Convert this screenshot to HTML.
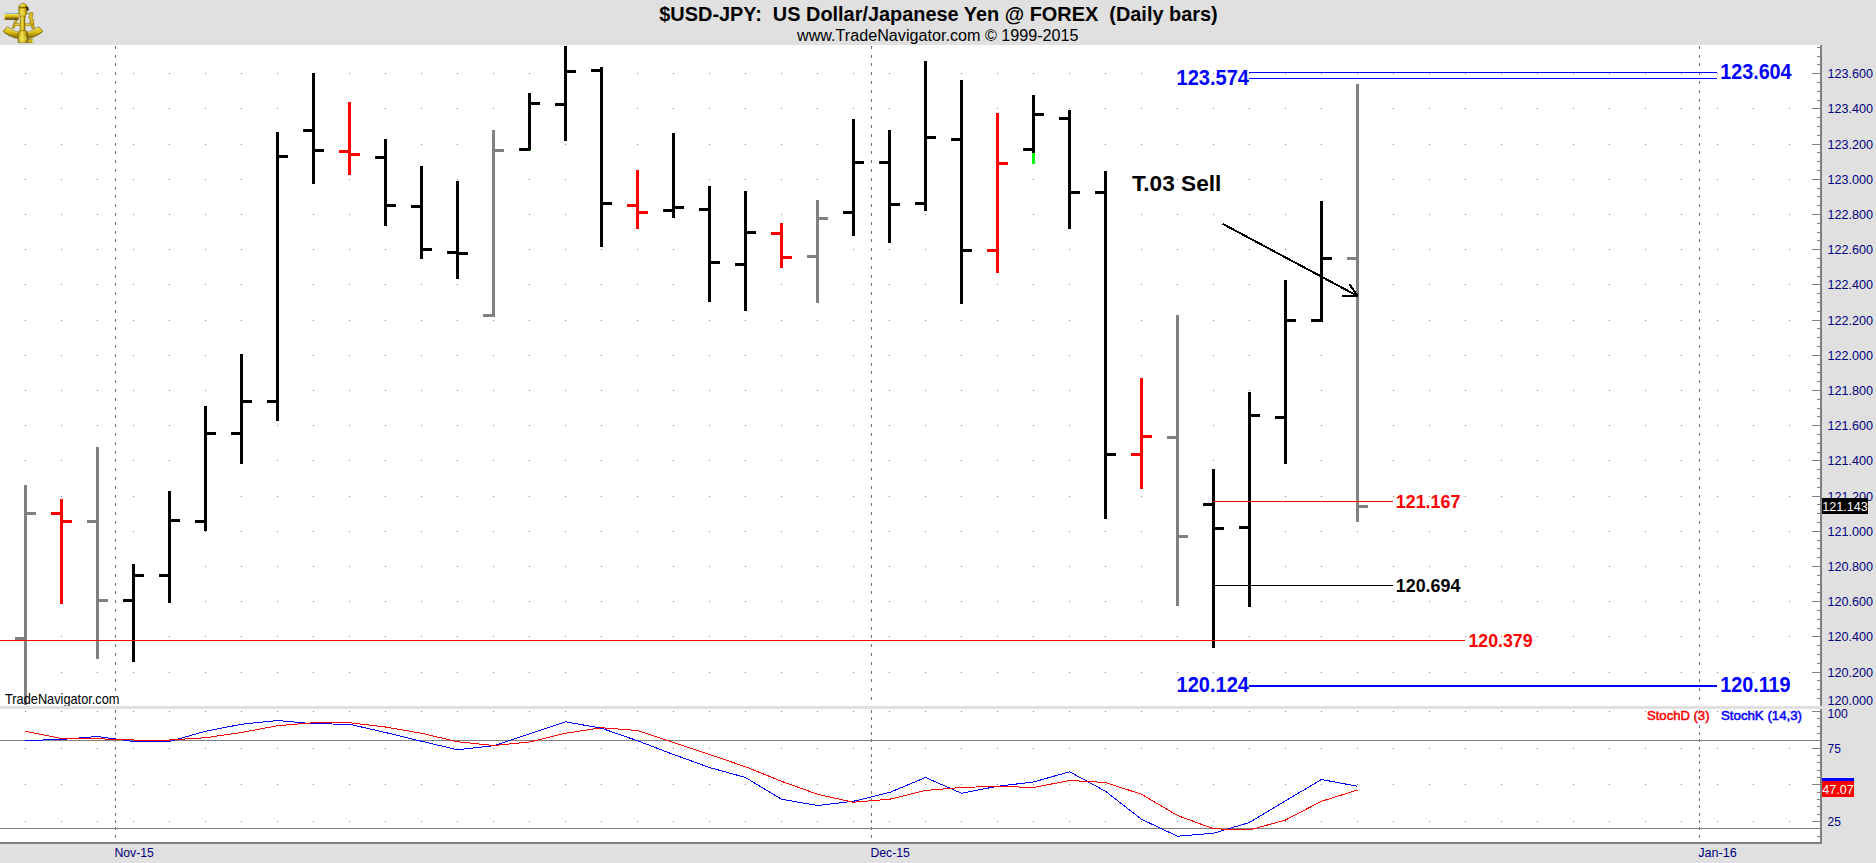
<!DOCTYPE html>
<html lang="en">
<head>
<meta charset="utf-8">
<title>$USD-JPY: US Dollar/Japanese Yen @ FOREX (Daily bars)</title>
<style>
html,body{margin:0;padding:0;background:#e0e0e0;overflow:hidden}
body{width:1876px;height:863px;font-family:'Liberation Sans', Arial, Helvetica, sans-serif}
svg{display:block;position:absolute;left:0;top:0}
svg text{font-family:'Liberation Sans', Arial, Helvetica, sans-serif}
</style>
</head>
<body>
<svg width="1876" height="863" viewBox="0 0 1876 863">
<g shape-rendering="crispEdges">
<rect x="0" y="0" width="1876" height="863" fill="#e0e0e0"/>
<rect x="0" y="45" width="1820" height="661" fill="#ffffff"/>
<rect x="0" y="709" width="1820" height="133" fill="#ffffff"/>
<g fill="#808080">
<rect x="25" y="73" width="1" height="1"/>
<rect x="61" y="73" width="1" height="1"/>
<rect x="97" y="73" width="1" height="1"/>
<rect x="133" y="73" width="1" height="1"/>
<rect x="169" y="73" width="1" height="1"/>
<rect x="205" y="73" width="1" height="1"/>
<rect x="241" y="73" width="1" height="1"/>
<rect x="277" y="73" width="1" height="1"/>
<rect x="313" y="73" width="1" height="1"/>
<rect x="349" y="73" width="1" height="1"/>
<rect x="385" y="73" width="1" height="1"/>
<rect x="421" y="73" width="1" height="1"/>
<rect x="457" y="73" width="1" height="1"/>
<rect x="493" y="73" width="1" height="1"/>
<rect x="529" y="73" width="1" height="1"/>
<rect x="565" y="73" width="1" height="1"/>
<rect x="601" y="73" width="1" height="1"/>
<rect x="637" y="73" width="1" height="1"/>
<rect x="673" y="73" width="1" height="1"/>
<rect x="709" y="73" width="1" height="1"/>
<rect x="745" y="73" width="1" height="1"/>
<rect x="781" y="73" width="1" height="1"/>
<rect x="817" y="73" width="1" height="1"/>
<rect x="853" y="73" width="1" height="1"/>
<rect x="889" y="73" width="1" height="1"/>
<rect x="925" y="73" width="1" height="1"/>
<rect x="961" y="73" width="1" height="1"/>
<rect x="997" y="73" width="1" height="1"/>
<rect x="1033" y="73" width="1" height="1"/>
<rect x="1069" y="73" width="1" height="1"/>
<rect x="1105" y="73" width="1" height="1"/>
<rect x="1141" y="73" width="1" height="1"/>
<rect x="1177" y="73" width="1" height="1"/>
<rect x="1213" y="73" width="1" height="1"/>
<rect x="1249" y="73" width="1" height="1"/>
<rect x="1285" y="73" width="1" height="1"/>
<rect x="1321" y="73" width="1" height="1"/>
<rect x="1357" y="73" width="1" height="1"/>
<rect x="1393" y="73" width="1" height="1"/>
<rect x="1429" y="73" width="1" height="1"/>
<rect x="1465" y="73" width="1" height="1"/>
<rect x="1501" y="73" width="1" height="1"/>
<rect x="1537" y="73" width="1" height="1"/>
<rect x="1573" y="73" width="1" height="1"/>
<rect x="1609" y="73" width="1" height="1"/>
<rect x="1645" y="73" width="1" height="1"/>
<rect x="1681" y="73" width="1" height="1"/>
<rect x="1717" y="73" width="1" height="1"/>
<rect x="1753" y="73" width="1" height="1"/>
<rect x="1789" y="73" width="1" height="1"/>
<rect x="25" y="108" width="1" height="1"/>
<rect x="61" y="108" width="1" height="1"/>
<rect x="97" y="108" width="1" height="1"/>
<rect x="133" y="108" width="1" height="1"/>
<rect x="169" y="108" width="1" height="1"/>
<rect x="205" y="108" width="1" height="1"/>
<rect x="241" y="108" width="1" height="1"/>
<rect x="277" y="108" width="1" height="1"/>
<rect x="313" y="108" width="1" height="1"/>
<rect x="349" y="108" width="1" height="1"/>
<rect x="385" y="108" width="1" height="1"/>
<rect x="421" y="108" width="1" height="1"/>
<rect x="457" y="108" width="1" height="1"/>
<rect x="493" y="108" width="1" height="1"/>
<rect x="529" y="108" width="1" height="1"/>
<rect x="565" y="108" width="1" height="1"/>
<rect x="601" y="108" width="1" height="1"/>
<rect x="637" y="108" width="1" height="1"/>
<rect x="673" y="108" width="1" height="1"/>
<rect x="709" y="108" width="1" height="1"/>
<rect x="745" y="108" width="1" height="1"/>
<rect x="781" y="108" width="1" height="1"/>
<rect x="817" y="108" width="1" height="1"/>
<rect x="853" y="108" width="1" height="1"/>
<rect x="889" y="108" width="1" height="1"/>
<rect x="925" y="108" width="1" height="1"/>
<rect x="961" y="108" width="1" height="1"/>
<rect x="997" y="108" width="1" height="1"/>
<rect x="1033" y="108" width="1" height="1"/>
<rect x="1069" y="108" width="1" height="1"/>
<rect x="1105" y="108" width="1" height="1"/>
<rect x="1141" y="108" width="1" height="1"/>
<rect x="1177" y="108" width="1" height="1"/>
<rect x="1213" y="108" width="1" height="1"/>
<rect x="1249" y="108" width="1" height="1"/>
<rect x="1285" y="108" width="1" height="1"/>
<rect x="1321" y="108" width="1" height="1"/>
<rect x="1357" y="108" width="1" height="1"/>
<rect x="1393" y="108" width="1" height="1"/>
<rect x="1429" y="108" width="1" height="1"/>
<rect x="1465" y="108" width="1" height="1"/>
<rect x="1501" y="108" width="1" height="1"/>
<rect x="1537" y="108" width="1" height="1"/>
<rect x="1573" y="108" width="1" height="1"/>
<rect x="1609" y="108" width="1" height="1"/>
<rect x="1645" y="108" width="1" height="1"/>
<rect x="1681" y="108" width="1" height="1"/>
<rect x="1717" y="108" width="1" height="1"/>
<rect x="1753" y="108" width="1" height="1"/>
<rect x="1789" y="108" width="1" height="1"/>
<rect x="25" y="144" width="1" height="1"/>
<rect x="61" y="144" width="1" height="1"/>
<rect x="97" y="144" width="1" height="1"/>
<rect x="133" y="144" width="1" height="1"/>
<rect x="169" y="144" width="1" height="1"/>
<rect x="205" y="144" width="1" height="1"/>
<rect x="241" y="144" width="1" height="1"/>
<rect x="277" y="144" width="1" height="1"/>
<rect x="313" y="144" width="1" height="1"/>
<rect x="349" y="144" width="1" height="1"/>
<rect x="385" y="144" width="1" height="1"/>
<rect x="421" y="144" width="1" height="1"/>
<rect x="457" y="144" width="1" height="1"/>
<rect x="493" y="144" width="1" height="1"/>
<rect x="529" y="144" width="1" height="1"/>
<rect x="565" y="144" width="1" height="1"/>
<rect x="601" y="144" width="1" height="1"/>
<rect x="637" y="144" width="1" height="1"/>
<rect x="673" y="144" width="1" height="1"/>
<rect x="709" y="144" width="1" height="1"/>
<rect x="745" y="144" width="1" height="1"/>
<rect x="781" y="144" width="1" height="1"/>
<rect x="817" y="144" width="1" height="1"/>
<rect x="853" y="144" width="1" height="1"/>
<rect x="889" y="144" width="1" height="1"/>
<rect x="925" y="144" width="1" height="1"/>
<rect x="961" y="144" width="1" height="1"/>
<rect x="997" y="144" width="1" height="1"/>
<rect x="1033" y="144" width="1" height="1"/>
<rect x="1069" y="144" width="1" height="1"/>
<rect x="1105" y="144" width="1" height="1"/>
<rect x="1141" y="144" width="1" height="1"/>
<rect x="1177" y="144" width="1" height="1"/>
<rect x="1213" y="144" width="1" height="1"/>
<rect x="1249" y="144" width="1" height="1"/>
<rect x="1285" y="144" width="1" height="1"/>
<rect x="1321" y="144" width="1" height="1"/>
<rect x="1357" y="144" width="1" height="1"/>
<rect x="1393" y="144" width="1" height="1"/>
<rect x="1429" y="144" width="1" height="1"/>
<rect x="1465" y="144" width="1" height="1"/>
<rect x="1501" y="144" width="1" height="1"/>
<rect x="1537" y="144" width="1" height="1"/>
<rect x="1573" y="144" width="1" height="1"/>
<rect x="1609" y="144" width="1" height="1"/>
<rect x="1645" y="144" width="1" height="1"/>
<rect x="1681" y="144" width="1" height="1"/>
<rect x="1717" y="144" width="1" height="1"/>
<rect x="1753" y="144" width="1" height="1"/>
<rect x="1789" y="144" width="1" height="1"/>
<rect x="25" y="179" width="1" height="1"/>
<rect x="61" y="179" width="1" height="1"/>
<rect x="97" y="179" width="1" height="1"/>
<rect x="133" y="179" width="1" height="1"/>
<rect x="169" y="179" width="1" height="1"/>
<rect x="205" y="179" width="1" height="1"/>
<rect x="241" y="179" width="1" height="1"/>
<rect x="277" y="179" width="1" height="1"/>
<rect x="313" y="179" width="1" height="1"/>
<rect x="349" y="179" width="1" height="1"/>
<rect x="385" y="179" width="1" height="1"/>
<rect x="421" y="179" width="1" height="1"/>
<rect x="457" y="179" width="1" height="1"/>
<rect x="493" y="179" width="1" height="1"/>
<rect x="529" y="179" width="1" height="1"/>
<rect x="565" y="179" width="1" height="1"/>
<rect x="601" y="179" width="1" height="1"/>
<rect x="637" y="179" width="1" height="1"/>
<rect x="673" y="179" width="1" height="1"/>
<rect x="709" y="179" width="1" height="1"/>
<rect x="745" y="179" width="1" height="1"/>
<rect x="781" y="179" width="1" height="1"/>
<rect x="817" y="179" width="1" height="1"/>
<rect x="853" y="179" width="1" height="1"/>
<rect x="889" y="179" width="1" height="1"/>
<rect x="925" y="179" width="1" height="1"/>
<rect x="961" y="179" width="1" height="1"/>
<rect x="997" y="179" width="1" height="1"/>
<rect x="1033" y="179" width="1" height="1"/>
<rect x="1069" y="179" width="1" height="1"/>
<rect x="1105" y="179" width="1" height="1"/>
<rect x="1141" y="179" width="1" height="1"/>
<rect x="1177" y="179" width="1" height="1"/>
<rect x="1213" y="179" width="1" height="1"/>
<rect x="1249" y="179" width="1" height="1"/>
<rect x="1285" y="179" width="1" height="1"/>
<rect x="1321" y="179" width="1" height="1"/>
<rect x="1357" y="179" width="1" height="1"/>
<rect x="1393" y="179" width="1" height="1"/>
<rect x="1429" y="179" width="1" height="1"/>
<rect x="1465" y="179" width="1" height="1"/>
<rect x="1501" y="179" width="1" height="1"/>
<rect x="1537" y="179" width="1" height="1"/>
<rect x="1573" y="179" width="1" height="1"/>
<rect x="1609" y="179" width="1" height="1"/>
<rect x="1645" y="179" width="1" height="1"/>
<rect x="1681" y="179" width="1" height="1"/>
<rect x="1717" y="179" width="1" height="1"/>
<rect x="1753" y="179" width="1" height="1"/>
<rect x="1789" y="179" width="1" height="1"/>
<rect x="25" y="214" width="1" height="1"/>
<rect x="61" y="214" width="1" height="1"/>
<rect x="97" y="214" width="1" height="1"/>
<rect x="133" y="214" width="1" height="1"/>
<rect x="169" y="214" width="1" height="1"/>
<rect x="205" y="214" width="1" height="1"/>
<rect x="241" y="214" width="1" height="1"/>
<rect x="277" y="214" width="1" height="1"/>
<rect x="313" y="214" width="1" height="1"/>
<rect x="349" y="214" width="1" height="1"/>
<rect x="385" y="214" width="1" height="1"/>
<rect x="421" y="214" width="1" height="1"/>
<rect x="457" y="214" width="1" height="1"/>
<rect x="493" y="214" width="1" height="1"/>
<rect x="529" y="214" width="1" height="1"/>
<rect x="565" y="214" width="1" height="1"/>
<rect x="601" y="214" width="1" height="1"/>
<rect x="637" y="214" width="1" height="1"/>
<rect x="673" y="214" width="1" height="1"/>
<rect x="709" y="214" width="1" height="1"/>
<rect x="745" y="214" width="1" height="1"/>
<rect x="781" y="214" width="1" height="1"/>
<rect x="817" y="214" width="1" height="1"/>
<rect x="853" y="214" width="1" height="1"/>
<rect x="889" y="214" width="1" height="1"/>
<rect x="925" y="214" width="1" height="1"/>
<rect x="961" y="214" width="1" height="1"/>
<rect x="997" y="214" width="1" height="1"/>
<rect x="1033" y="214" width="1" height="1"/>
<rect x="1069" y="214" width="1" height="1"/>
<rect x="1105" y="214" width="1" height="1"/>
<rect x="1141" y="214" width="1" height="1"/>
<rect x="1177" y="214" width="1" height="1"/>
<rect x="1213" y="214" width="1" height="1"/>
<rect x="1249" y="214" width="1" height="1"/>
<rect x="1285" y="214" width="1" height="1"/>
<rect x="1321" y="214" width="1" height="1"/>
<rect x="1357" y="214" width="1" height="1"/>
<rect x="1393" y="214" width="1" height="1"/>
<rect x="1429" y="214" width="1" height="1"/>
<rect x="1465" y="214" width="1" height="1"/>
<rect x="1501" y="214" width="1" height="1"/>
<rect x="1537" y="214" width="1" height="1"/>
<rect x="1573" y="214" width="1" height="1"/>
<rect x="1609" y="214" width="1" height="1"/>
<rect x="1645" y="214" width="1" height="1"/>
<rect x="1681" y="214" width="1" height="1"/>
<rect x="1717" y="214" width="1" height="1"/>
<rect x="1753" y="214" width="1" height="1"/>
<rect x="1789" y="214" width="1" height="1"/>
<rect x="25" y="249" width="1" height="1"/>
<rect x="61" y="249" width="1" height="1"/>
<rect x="97" y="249" width="1" height="1"/>
<rect x="133" y="249" width="1" height="1"/>
<rect x="169" y="249" width="1" height="1"/>
<rect x="205" y="249" width="1" height="1"/>
<rect x="241" y="249" width="1" height="1"/>
<rect x="277" y="249" width="1" height="1"/>
<rect x="313" y="249" width="1" height="1"/>
<rect x="349" y="249" width="1" height="1"/>
<rect x="385" y="249" width="1" height="1"/>
<rect x="421" y="249" width="1" height="1"/>
<rect x="457" y="249" width="1" height="1"/>
<rect x="493" y="249" width="1" height="1"/>
<rect x="529" y="249" width="1" height="1"/>
<rect x="565" y="249" width="1" height="1"/>
<rect x="601" y="249" width="1" height="1"/>
<rect x="637" y="249" width="1" height="1"/>
<rect x="673" y="249" width="1" height="1"/>
<rect x="709" y="249" width="1" height="1"/>
<rect x="745" y="249" width="1" height="1"/>
<rect x="781" y="249" width="1" height="1"/>
<rect x="817" y="249" width="1" height="1"/>
<rect x="853" y="249" width="1" height="1"/>
<rect x="889" y="249" width="1" height="1"/>
<rect x="925" y="249" width="1" height="1"/>
<rect x="961" y="249" width="1" height="1"/>
<rect x="997" y="249" width="1" height="1"/>
<rect x="1033" y="249" width="1" height="1"/>
<rect x="1069" y="249" width="1" height="1"/>
<rect x="1105" y="249" width="1" height="1"/>
<rect x="1141" y="249" width="1" height="1"/>
<rect x="1177" y="249" width="1" height="1"/>
<rect x="1213" y="249" width="1" height="1"/>
<rect x="1249" y="249" width="1" height="1"/>
<rect x="1285" y="249" width="1" height="1"/>
<rect x="1321" y="249" width="1" height="1"/>
<rect x="1357" y="249" width="1" height="1"/>
<rect x="1393" y="249" width="1" height="1"/>
<rect x="1429" y="249" width="1" height="1"/>
<rect x="1465" y="249" width="1" height="1"/>
<rect x="1501" y="249" width="1" height="1"/>
<rect x="1537" y="249" width="1" height="1"/>
<rect x="1573" y="249" width="1" height="1"/>
<rect x="1609" y="249" width="1" height="1"/>
<rect x="1645" y="249" width="1" height="1"/>
<rect x="1681" y="249" width="1" height="1"/>
<rect x="1717" y="249" width="1" height="1"/>
<rect x="1753" y="249" width="1" height="1"/>
<rect x="1789" y="249" width="1" height="1"/>
<rect x="25" y="284" width="1" height="1"/>
<rect x="61" y="284" width="1" height="1"/>
<rect x="97" y="284" width="1" height="1"/>
<rect x="133" y="284" width="1" height="1"/>
<rect x="169" y="284" width="1" height="1"/>
<rect x="205" y="284" width="1" height="1"/>
<rect x="241" y="284" width="1" height="1"/>
<rect x="277" y="284" width="1" height="1"/>
<rect x="313" y="284" width="1" height="1"/>
<rect x="349" y="284" width="1" height="1"/>
<rect x="385" y="284" width="1" height="1"/>
<rect x="421" y="284" width="1" height="1"/>
<rect x="457" y="284" width="1" height="1"/>
<rect x="493" y="284" width="1" height="1"/>
<rect x="529" y="284" width="1" height="1"/>
<rect x="565" y="284" width="1" height="1"/>
<rect x="601" y="284" width="1" height="1"/>
<rect x="637" y="284" width="1" height="1"/>
<rect x="673" y="284" width="1" height="1"/>
<rect x="709" y="284" width="1" height="1"/>
<rect x="745" y="284" width="1" height="1"/>
<rect x="781" y="284" width="1" height="1"/>
<rect x="817" y="284" width="1" height="1"/>
<rect x="853" y="284" width="1" height="1"/>
<rect x="889" y="284" width="1" height="1"/>
<rect x="925" y="284" width="1" height="1"/>
<rect x="961" y="284" width="1" height="1"/>
<rect x="997" y="284" width="1" height="1"/>
<rect x="1033" y="284" width="1" height="1"/>
<rect x="1069" y="284" width="1" height="1"/>
<rect x="1105" y="284" width="1" height="1"/>
<rect x="1141" y="284" width="1" height="1"/>
<rect x="1177" y="284" width="1" height="1"/>
<rect x="1213" y="284" width="1" height="1"/>
<rect x="1249" y="284" width="1" height="1"/>
<rect x="1285" y="284" width="1" height="1"/>
<rect x="1321" y="284" width="1" height="1"/>
<rect x="1357" y="284" width="1" height="1"/>
<rect x="1393" y="284" width="1" height="1"/>
<rect x="1429" y="284" width="1" height="1"/>
<rect x="1465" y="284" width="1" height="1"/>
<rect x="1501" y="284" width="1" height="1"/>
<rect x="1537" y="284" width="1" height="1"/>
<rect x="1573" y="284" width="1" height="1"/>
<rect x="1609" y="284" width="1" height="1"/>
<rect x="1645" y="284" width="1" height="1"/>
<rect x="1681" y="284" width="1" height="1"/>
<rect x="1717" y="284" width="1" height="1"/>
<rect x="1753" y="284" width="1" height="1"/>
<rect x="1789" y="284" width="1" height="1"/>
<rect x="25" y="320" width="1" height="1"/>
<rect x="61" y="320" width="1" height="1"/>
<rect x="97" y="320" width="1" height="1"/>
<rect x="133" y="320" width="1" height="1"/>
<rect x="169" y="320" width="1" height="1"/>
<rect x="205" y="320" width="1" height="1"/>
<rect x="241" y="320" width="1" height="1"/>
<rect x="277" y="320" width="1" height="1"/>
<rect x="313" y="320" width="1" height="1"/>
<rect x="349" y="320" width="1" height="1"/>
<rect x="385" y="320" width="1" height="1"/>
<rect x="421" y="320" width="1" height="1"/>
<rect x="457" y="320" width="1" height="1"/>
<rect x="493" y="320" width="1" height="1"/>
<rect x="529" y="320" width="1" height="1"/>
<rect x="565" y="320" width="1" height="1"/>
<rect x="601" y="320" width="1" height="1"/>
<rect x="637" y="320" width="1" height="1"/>
<rect x="673" y="320" width="1" height="1"/>
<rect x="709" y="320" width="1" height="1"/>
<rect x="745" y="320" width="1" height="1"/>
<rect x="781" y="320" width="1" height="1"/>
<rect x="817" y="320" width="1" height="1"/>
<rect x="853" y="320" width="1" height="1"/>
<rect x="889" y="320" width="1" height="1"/>
<rect x="925" y="320" width="1" height="1"/>
<rect x="961" y="320" width="1" height="1"/>
<rect x="997" y="320" width="1" height="1"/>
<rect x="1033" y="320" width="1" height="1"/>
<rect x="1069" y="320" width="1" height="1"/>
<rect x="1105" y="320" width="1" height="1"/>
<rect x="1141" y="320" width="1" height="1"/>
<rect x="1177" y="320" width="1" height="1"/>
<rect x="1213" y="320" width="1" height="1"/>
<rect x="1249" y="320" width="1" height="1"/>
<rect x="1285" y="320" width="1" height="1"/>
<rect x="1321" y="320" width="1" height="1"/>
<rect x="1357" y="320" width="1" height="1"/>
<rect x="1393" y="320" width="1" height="1"/>
<rect x="1429" y="320" width="1" height="1"/>
<rect x="1465" y="320" width="1" height="1"/>
<rect x="1501" y="320" width="1" height="1"/>
<rect x="1537" y="320" width="1" height="1"/>
<rect x="1573" y="320" width="1" height="1"/>
<rect x="1609" y="320" width="1" height="1"/>
<rect x="1645" y="320" width="1" height="1"/>
<rect x="1681" y="320" width="1" height="1"/>
<rect x="1717" y="320" width="1" height="1"/>
<rect x="1753" y="320" width="1" height="1"/>
<rect x="1789" y="320" width="1" height="1"/>
<rect x="25" y="355" width="1" height="1"/>
<rect x="61" y="355" width="1" height="1"/>
<rect x="97" y="355" width="1" height="1"/>
<rect x="133" y="355" width="1" height="1"/>
<rect x="169" y="355" width="1" height="1"/>
<rect x="205" y="355" width="1" height="1"/>
<rect x="241" y="355" width="1" height="1"/>
<rect x="277" y="355" width="1" height="1"/>
<rect x="313" y="355" width="1" height="1"/>
<rect x="349" y="355" width="1" height="1"/>
<rect x="385" y="355" width="1" height="1"/>
<rect x="421" y="355" width="1" height="1"/>
<rect x="457" y="355" width="1" height="1"/>
<rect x="493" y="355" width="1" height="1"/>
<rect x="529" y="355" width="1" height="1"/>
<rect x="565" y="355" width="1" height="1"/>
<rect x="601" y="355" width="1" height="1"/>
<rect x="637" y="355" width="1" height="1"/>
<rect x="673" y="355" width="1" height="1"/>
<rect x="709" y="355" width="1" height="1"/>
<rect x="745" y="355" width="1" height="1"/>
<rect x="781" y="355" width="1" height="1"/>
<rect x="817" y="355" width="1" height="1"/>
<rect x="853" y="355" width="1" height="1"/>
<rect x="889" y="355" width="1" height="1"/>
<rect x="925" y="355" width="1" height="1"/>
<rect x="961" y="355" width="1" height="1"/>
<rect x="997" y="355" width="1" height="1"/>
<rect x="1033" y="355" width="1" height="1"/>
<rect x="1069" y="355" width="1" height="1"/>
<rect x="1105" y="355" width="1" height="1"/>
<rect x="1141" y="355" width="1" height="1"/>
<rect x="1177" y="355" width="1" height="1"/>
<rect x="1213" y="355" width="1" height="1"/>
<rect x="1249" y="355" width="1" height="1"/>
<rect x="1285" y="355" width="1" height="1"/>
<rect x="1321" y="355" width="1" height="1"/>
<rect x="1357" y="355" width="1" height="1"/>
<rect x="1393" y="355" width="1" height="1"/>
<rect x="1429" y="355" width="1" height="1"/>
<rect x="1465" y="355" width="1" height="1"/>
<rect x="1501" y="355" width="1" height="1"/>
<rect x="1537" y="355" width="1" height="1"/>
<rect x="1573" y="355" width="1" height="1"/>
<rect x="1609" y="355" width="1" height="1"/>
<rect x="1645" y="355" width="1" height="1"/>
<rect x="1681" y="355" width="1" height="1"/>
<rect x="1717" y="355" width="1" height="1"/>
<rect x="1753" y="355" width="1" height="1"/>
<rect x="1789" y="355" width="1" height="1"/>
<rect x="25" y="390" width="1" height="1"/>
<rect x="61" y="390" width="1" height="1"/>
<rect x="97" y="390" width="1" height="1"/>
<rect x="133" y="390" width="1" height="1"/>
<rect x="169" y="390" width="1" height="1"/>
<rect x="205" y="390" width="1" height="1"/>
<rect x="241" y="390" width="1" height="1"/>
<rect x="277" y="390" width="1" height="1"/>
<rect x="313" y="390" width="1" height="1"/>
<rect x="349" y="390" width="1" height="1"/>
<rect x="385" y="390" width="1" height="1"/>
<rect x="421" y="390" width="1" height="1"/>
<rect x="457" y="390" width="1" height="1"/>
<rect x="493" y="390" width="1" height="1"/>
<rect x="529" y="390" width="1" height="1"/>
<rect x="565" y="390" width="1" height="1"/>
<rect x="601" y="390" width="1" height="1"/>
<rect x="637" y="390" width="1" height="1"/>
<rect x="673" y="390" width="1" height="1"/>
<rect x="709" y="390" width="1" height="1"/>
<rect x="745" y="390" width="1" height="1"/>
<rect x="781" y="390" width="1" height="1"/>
<rect x="817" y="390" width="1" height="1"/>
<rect x="853" y="390" width="1" height="1"/>
<rect x="889" y="390" width="1" height="1"/>
<rect x="925" y="390" width="1" height="1"/>
<rect x="961" y="390" width="1" height="1"/>
<rect x="997" y="390" width="1" height="1"/>
<rect x="1033" y="390" width="1" height="1"/>
<rect x="1069" y="390" width="1" height="1"/>
<rect x="1105" y="390" width="1" height="1"/>
<rect x="1141" y="390" width="1" height="1"/>
<rect x="1177" y="390" width="1" height="1"/>
<rect x="1213" y="390" width="1" height="1"/>
<rect x="1249" y="390" width="1" height="1"/>
<rect x="1285" y="390" width="1" height="1"/>
<rect x="1321" y="390" width="1" height="1"/>
<rect x="1357" y="390" width="1" height="1"/>
<rect x="1393" y="390" width="1" height="1"/>
<rect x="1429" y="390" width="1" height="1"/>
<rect x="1465" y="390" width="1" height="1"/>
<rect x="1501" y="390" width="1" height="1"/>
<rect x="1537" y="390" width="1" height="1"/>
<rect x="1573" y="390" width="1" height="1"/>
<rect x="1609" y="390" width="1" height="1"/>
<rect x="1645" y="390" width="1" height="1"/>
<rect x="1681" y="390" width="1" height="1"/>
<rect x="1717" y="390" width="1" height="1"/>
<rect x="1753" y="390" width="1" height="1"/>
<rect x="1789" y="390" width="1" height="1"/>
<rect x="25" y="425" width="1" height="1"/>
<rect x="61" y="425" width="1" height="1"/>
<rect x="97" y="425" width="1" height="1"/>
<rect x="133" y="425" width="1" height="1"/>
<rect x="169" y="425" width="1" height="1"/>
<rect x="205" y="425" width="1" height="1"/>
<rect x="241" y="425" width="1" height="1"/>
<rect x="277" y="425" width="1" height="1"/>
<rect x="313" y="425" width="1" height="1"/>
<rect x="349" y="425" width="1" height="1"/>
<rect x="385" y="425" width="1" height="1"/>
<rect x="421" y="425" width="1" height="1"/>
<rect x="457" y="425" width="1" height="1"/>
<rect x="493" y="425" width="1" height="1"/>
<rect x="529" y="425" width="1" height="1"/>
<rect x="565" y="425" width="1" height="1"/>
<rect x="601" y="425" width="1" height="1"/>
<rect x="637" y="425" width="1" height="1"/>
<rect x="673" y="425" width="1" height="1"/>
<rect x="709" y="425" width="1" height="1"/>
<rect x="745" y="425" width="1" height="1"/>
<rect x="781" y="425" width="1" height="1"/>
<rect x="817" y="425" width="1" height="1"/>
<rect x="853" y="425" width="1" height="1"/>
<rect x="889" y="425" width="1" height="1"/>
<rect x="925" y="425" width="1" height="1"/>
<rect x="961" y="425" width="1" height="1"/>
<rect x="997" y="425" width="1" height="1"/>
<rect x="1033" y="425" width="1" height="1"/>
<rect x="1069" y="425" width="1" height="1"/>
<rect x="1105" y="425" width="1" height="1"/>
<rect x="1141" y="425" width="1" height="1"/>
<rect x="1177" y="425" width="1" height="1"/>
<rect x="1213" y="425" width="1" height="1"/>
<rect x="1249" y="425" width="1" height="1"/>
<rect x="1285" y="425" width="1" height="1"/>
<rect x="1321" y="425" width="1" height="1"/>
<rect x="1357" y="425" width="1" height="1"/>
<rect x="1393" y="425" width="1" height="1"/>
<rect x="1429" y="425" width="1" height="1"/>
<rect x="1465" y="425" width="1" height="1"/>
<rect x="1501" y="425" width="1" height="1"/>
<rect x="1537" y="425" width="1" height="1"/>
<rect x="1573" y="425" width="1" height="1"/>
<rect x="1609" y="425" width="1" height="1"/>
<rect x="1645" y="425" width="1" height="1"/>
<rect x="1681" y="425" width="1" height="1"/>
<rect x="1717" y="425" width="1" height="1"/>
<rect x="1753" y="425" width="1" height="1"/>
<rect x="1789" y="425" width="1" height="1"/>
<rect x="25" y="460" width="1" height="1"/>
<rect x="61" y="460" width="1" height="1"/>
<rect x="97" y="460" width="1" height="1"/>
<rect x="133" y="460" width="1" height="1"/>
<rect x="169" y="460" width="1" height="1"/>
<rect x="205" y="460" width="1" height="1"/>
<rect x="241" y="460" width="1" height="1"/>
<rect x="277" y="460" width="1" height="1"/>
<rect x="313" y="460" width="1" height="1"/>
<rect x="349" y="460" width="1" height="1"/>
<rect x="385" y="460" width="1" height="1"/>
<rect x="421" y="460" width="1" height="1"/>
<rect x="457" y="460" width="1" height="1"/>
<rect x="493" y="460" width="1" height="1"/>
<rect x="529" y="460" width="1" height="1"/>
<rect x="565" y="460" width="1" height="1"/>
<rect x="601" y="460" width="1" height="1"/>
<rect x="637" y="460" width="1" height="1"/>
<rect x="673" y="460" width="1" height="1"/>
<rect x="709" y="460" width="1" height="1"/>
<rect x="745" y="460" width="1" height="1"/>
<rect x="781" y="460" width="1" height="1"/>
<rect x="817" y="460" width="1" height="1"/>
<rect x="853" y="460" width="1" height="1"/>
<rect x="889" y="460" width="1" height="1"/>
<rect x="925" y="460" width="1" height="1"/>
<rect x="961" y="460" width="1" height="1"/>
<rect x="997" y="460" width="1" height="1"/>
<rect x="1033" y="460" width="1" height="1"/>
<rect x="1069" y="460" width="1" height="1"/>
<rect x="1105" y="460" width="1" height="1"/>
<rect x="1141" y="460" width="1" height="1"/>
<rect x="1177" y="460" width="1" height="1"/>
<rect x="1213" y="460" width="1" height="1"/>
<rect x="1249" y="460" width="1" height="1"/>
<rect x="1285" y="460" width="1" height="1"/>
<rect x="1321" y="460" width="1" height="1"/>
<rect x="1357" y="460" width="1" height="1"/>
<rect x="1393" y="460" width="1" height="1"/>
<rect x="1429" y="460" width="1" height="1"/>
<rect x="1465" y="460" width="1" height="1"/>
<rect x="1501" y="460" width="1" height="1"/>
<rect x="1537" y="460" width="1" height="1"/>
<rect x="1573" y="460" width="1" height="1"/>
<rect x="1609" y="460" width="1" height="1"/>
<rect x="1645" y="460" width="1" height="1"/>
<rect x="1681" y="460" width="1" height="1"/>
<rect x="1717" y="460" width="1" height="1"/>
<rect x="1753" y="460" width="1" height="1"/>
<rect x="1789" y="460" width="1" height="1"/>
<rect x="25" y="496" width="1" height="1"/>
<rect x="61" y="496" width="1" height="1"/>
<rect x="97" y="496" width="1" height="1"/>
<rect x="133" y="496" width="1" height="1"/>
<rect x="169" y="496" width="1" height="1"/>
<rect x="205" y="496" width="1" height="1"/>
<rect x="241" y="496" width="1" height="1"/>
<rect x="277" y="496" width="1" height="1"/>
<rect x="313" y="496" width="1" height="1"/>
<rect x="349" y="496" width="1" height="1"/>
<rect x="385" y="496" width="1" height="1"/>
<rect x="421" y="496" width="1" height="1"/>
<rect x="457" y="496" width="1" height="1"/>
<rect x="493" y="496" width="1" height="1"/>
<rect x="529" y="496" width="1" height="1"/>
<rect x="565" y="496" width="1" height="1"/>
<rect x="601" y="496" width="1" height="1"/>
<rect x="637" y="496" width="1" height="1"/>
<rect x="673" y="496" width="1" height="1"/>
<rect x="709" y="496" width="1" height="1"/>
<rect x="745" y="496" width="1" height="1"/>
<rect x="781" y="496" width="1" height="1"/>
<rect x="817" y="496" width="1" height="1"/>
<rect x="853" y="496" width="1" height="1"/>
<rect x="889" y="496" width="1" height="1"/>
<rect x="925" y="496" width="1" height="1"/>
<rect x="961" y="496" width="1" height="1"/>
<rect x="997" y="496" width="1" height="1"/>
<rect x="1033" y="496" width="1" height="1"/>
<rect x="1069" y="496" width="1" height="1"/>
<rect x="1105" y="496" width="1" height="1"/>
<rect x="1141" y="496" width="1" height="1"/>
<rect x="1177" y="496" width="1" height="1"/>
<rect x="1213" y="496" width="1" height="1"/>
<rect x="1249" y="496" width="1" height="1"/>
<rect x="1285" y="496" width="1" height="1"/>
<rect x="1321" y="496" width="1" height="1"/>
<rect x="1357" y="496" width="1" height="1"/>
<rect x="1393" y="496" width="1" height="1"/>
<rect x="1429" y="496" width="1" height="1"/>
<rect x="1465" y="496" width="1" height="1"/>
<rect x="1501" y="496" width="1" height="1"/>
<rect x="1537" y="496" width="1" height="1"/>
<rect x="1573" y="496" width="1" height="1"/>
<rect x="1609" y="496" width="1" height="1"/>
<rect x="1645" y="496" width="1" height="1"/>
<rect x="1681" y="496" width="1" height="1"/>
<rect x="1717" y="496" width="1" height="1"/>
<rect x="1753" y="496" width="1" height="1"/>
<rect x="1789" y="496" width="1" height="1"/>
<rect x="25" y="531" width="1" height="1"/>
<rect x="61" y="531" width="1" height="1"/>
<rect x="97" y="531" width="1" height="1"/>
<rect x="133" y="531" width="1" height="1"/>
<rect x="169" y="531" width="1" height="1"/>
<rect x="205" y="531" width="1" height="1"/>
<rect x="241" y="531" width="1" height="1"/>
<rect x="277" y="531" width="1" height="1"/>
<rect x="313" y="531" width="1" height="1"/>
<rect x="349" y="531" width="1" height="1"/>
<rect x="385" y="531" width="1" height="1"/>
<rect x="421" y="531" width="1" height="1"/>
<rect x="457" y="531" width="1" height="1"/>
<rect x="493" y="531" width="1" height="1"/>
<rect x="529" y="531" width="1" height="1"/>
<rect x="565" y="531" width="1" height="1"/>
<rect x="601" y="531" width="1" height="1"/>
<rect x="637" y="531" width="1" height="1"/>
<rect x="673" y="531" width="1" height="1"/>
<rect x="709" y="531" width="1" height="1"/>
<rect x="745" y="531" width="1" height="1"/>
<rect x="781" y="531" width="1" height="1"/>
<rect x="817" y="531" width="1" height="1"/>
<rect x="853" y="531" width="1" height="1"/>
<rect x="889" y="531" width="1" height="1"/>
<rect x="925" y="531" width="1" height="1"/>
<rect x="961" y="531" width="1" height="1"/>
<rect x="997" y="531" width="1" height="1"/>
<rect x="1033" y="531" width="1" height="1"/>
<rect x="1069" y="531" width="1" height="1"/>
<rect x="1105" y="531" width="1" height="1"/>
<rect x="1141" y="531" width="1" height="1"/>
<rect x="1177" y="531" width="1" height="1"/>
<rect x="1213" y="531" width="1" height="1"/>
<rect x="1249" y="531" width="1" height="1"/>
<rect x="1285" y="531" width="1" height="1"/>
<rect x="1321" y="531" width="1" height="1"/>
<rect x="1357" y="531" width="1" height="1"/>
<rect x="1393" y="531" width="1" height="1"/>
<rect x="1429" y="531" width="1" height="1"/>
<rect x="1465" y="531" width="1" height="1"/>
<rect x="1501" y="531" width="1" height="1"/>
<rect x="1537" y="531" width="1" height="1"/>
<rect x="1573" y="531" width="1" height="1"/>
<rect x="1609" y="531" width="1" height="1"/>
<rect x="1645" y="531" width="1" height="1"/>
<rect x="1681" y="531" width="1" height="1"/>
<rect x="1717" y="531" width="1" height="1"/>
<rect x="1753" y="531" width="1" height="1"/>
<rect x="1789" y="531" width="1" height="1"/>
<rect x="25" y="566" width="1" height="1"/>
<rect x="61" y="566" width="1" height="1"/>
<rect x="97" y="566" width="1" height="1"/>
<rect x="133" y="566" width="1" height="1"/>
<rect x="169" y="566" width="1" height="1"/>
<rect x="205" y="566" width="1" height="1"/>
<rect x="241" y="566" width="1" height="1"/>
<rect x="277" y="566" width="1" height="1"/>
<rect x="313" y="566" width="1" height="1"/>
<rect x="349" y="566" width="1" height="1"/>
<rect x="385" y="566" width="1" height="1"/>
<rect x="421" y="566" width="1" height="1"/>
<rect x="457" y="566" width="1" height="1"/>
<rect x="493" y="566" width="1" height="1"/>
<rect x="529" y="566" width="1" height="1"/>
<rect x="565" y="566" width="1" height="1"/>
<rect x="601" y="566" width="1" height="1"/>
<rect x="637" y="566" width="1" height="1"/>
<rect x="673" y="566" width="1" height="1"/>
<rect x="709" y="566" width="1" height="1"/>
<rect x="745" y="566" width="1" height="1"/>
<rect x="781" y="566" width="1" height="1"/>
<rect x="817" y="566" width="1" height="1"/>
<rect x="853" y="566" width="1" height="1"/>
<rect x="889" y="566" width="1" height="1"/>
<rect x="925" y="566" width="1" height="1"/>
<rect x="961" y="566" width="1" height="1"/>
<rect x="997" y="566" width="1" height="1"/>
<rect x="1033" y="566" width="1" height="1"/>
<rect x="1069" y="566" width="1" height="1"/>
<rect x="1105" y="566" width="1" height="1"/>
<rect x="1141" y="566" width="1" height="1"/>
<rect x="1177" y="566" width="1" height="1"/>
<rect x="1213" y="566" width="1" height="1"/>
<rect x="1249" y="566" width="1" height="1"/>
<rect x="1285" y="566" width="1" height="1"/>
<rect x="1321" y="566" width="1" height="1"/>
<rect x="1357" y="566" width="1" height="1"/>
<rect x="1393" y="566" width="1" height="1"/>
<rect x="1429" y="566" width="1" height="1"/>
<rect x="1465" y="566" width="1" height="1"/>
<rect x="1501" y="566" width="1" height="1"/>
<rect x="1537" y="566" width="1" height="1"/>
<rect x="1573" y="566" width="1" height="1"/>
<rect x="1609" y="566" width="1" height="1"/>
<rect x="1645" y="566" width="1" height="1"/>
<rect x="1681" y="566" width="1" height="1"/>
<rect x="1717" y="566" width="1" height="1"/>
<rect x="1753" y="566" width="1" height="1"/>
<rect x="1789" y="566" width="1" height="1"/>
<rect x="25" y="601" width="1" height="1"/>
<rect x="61" y="601" width="1" height="1"/>
<rect x="97" y="601" width="1" height="1"/>
<rect x="133" y="601" width="1" height="1"/>
<rect x="169" y="601" width="1" height="1"/>
<rect x="205" y="601" width="1" height="1"/>
<rect x="241" y="601" width="1" height="1"/>
<rect x="277" y="601" width="1" height="1"/>
<rect x="313" y="601" width="1" height="1"/>
<rect x="349" y="601" width="1" height="1"/>
<rect x="385" y="601" width="1" height="1"/>
<rect x="421" y="601" width="1" height="1"/>
<rect x="457" y="601" width="1" height="1"/>
<rect x="493" y="601" width="1" height="1"/>
<rect x="529" y="601" width="1" height="1"/>
<rect x="565" y="601" width="1" height="1"/>
<rect x="601" y="601" width="1" height="1"/>
<rect x="637" y="601" width="1" height="1"/>
<rect x="673" y="601" width="1" height="1"/>
<rect x="709" y="601" width="1" height="1"/>
<rect x="745" y="601" width="1" height="1"/>
<rect x="781" y="601" width="1" height="1"/>
<rect x="817" y="601" width="1" height="1"/>
<rect x="853" y="601" width="1" height="1"/>
<rect x="889" y="601" width="1" height="1"/>
<rect x="925" y="601" width="1" height="1"/>
<rect x="961" y="601" width="1" height="1"/>
<rect x="997" y="601" width="1" height="1"/>
<rect x="1033" y="601" width="1" height="1"/>
<rect x="1069" y="601" width="1" height="1"/>
<rect x="1105" y="601" width="1" height="1"/>
<rect x="1141" y="601" width="1" height="1"/>
<rect x="1177" y="601" width="1" height="1"/>
<rect x="1213" y="601" width="1" height="1"/>
<rect x="1249" y="601" width="1" height="1"/>
<rect x="1285" y="601" width="1" height="1"/>
<rect x="1321" y="601" width="1" height="1"/>
<rect x="1357" y="601" width="1" height="1"/>
<rect x="1393" y="601" width="1" height="1"/>
<rect x="1429" y="601" width="1" height="1"/>
<rect x="1465" y="601" width="1" height="1"/>
<rect x="1501" y="601" width="1" height="1"/>
<rect x="1537" y="601" width="1" height="1"/>
<rect x="1573" y="601" width="1" height="1"/>
<rect x="1609" y="601" width="1" height="1"/>
<rect x="1645" y="601" width="1" height="1"/>
<rect x="1681" y="601" width="1" height="1"/>
<rect x="1717" y="601" width="1" height="1"/>
<rect x="1753" y="601" width="1" height="1"/>
<rect x="1789" y="601" width="1" height="1"/>
<rect x="25" y="636" width="1" height="1"/>
<rect x="61" y="636" width="1" height="1"/>
<rect x="97" y="636" width="1" height="1"/>
<rect x="133" y="636" width="1" height="1"/>
<rect x="169" y="636" width="1" height="1"/>
<rect x="205" y="636" width="1" height="1"/>
<rect x="241" y="636" width="1" height="1"/>
<rect x="277" y="636" width="1" height="1"/>
<rect x="313" y="636" width="1" height="1"/>
<rect x="349" y="636" width="1" height="1"/>
<rect x="385" y="636" width="1" height="1"/>
<rect x="421" y="636" width="1" height="1"/>
<rect x="457" y="636" width="1" height="1"/>
<rect x="493" y="636" width="1" height="1"/>
<rect x="529" y="636" width="1" height="1"/>
<rect x="565" y="636" width="1" height="1"/>
<rect x="601" y="636" width="1" height="1"/>
<rect x="637" y="636" width="1" height="1"/>
<rect x="673" y="636" width="1" height="1"/>
<rect x="709" y="636" width="1" height="1"/>
<rect x="745" y="636" width="1" height="1"/>
<rect x="781" y="636" width="1" height="1"/>
<rect x="817" y="636" width="1" height="1"/>
<rect x="853" y="636" width="1" height="1"/>
<rect x="889" y="636" width="1" height="1"/>
<rect x="925" y="636" width="1" height="1"/>
<rect x="961" y="636" width="1" height="1"/>
<rect x="997" y="636" width="1" height="1"/>
<rect x="1033" y="636" width="1" height="1"/>
<rect x="1069" y="636" width="1" height="1"/>
<rect x="1105" y="636" width="1" height="1"/>
<rect x="1141" y="636" width="1" height="1"/>
<rect x="1177" y="636" width="1" height="1"/>
<rect x="1213" y="636" width="1" height="1"/>
<rect x="1249" y="636" width="1" height="1"/>
<rect x="1285" y="636" width="1" height="1"/>
<rect x="1321" y="636" width="1" height="1"/>
<rect x="1357" y="636" width="1" height="1"/>
<rect x="1393" y="636" width="1" height="1"/>
<rect x="1429" y="636" width="1" height="1"/>
<rect x="1465" y="636" width="1" height="1"/>
<rect x="1501" y="636" width="1" height="1"/>
<rect x="1537" y="636" width="1" height="1"/>
<rect x="1573" y="636" width="1" height="1"/>
<rect x="1609" y="636" width="1" height="1"/>
<rect x="1645" y="636" width="1" height="1"/>
<rect x="1681" y="636" width="1" height="1"/>
<rect x="1717" y="636" width="1" height="1"/>
<rect x="1753" y="636" width="1" height="1"/>
<rect x="1789" y="636" width="1" height="1"/>
<rect x="25" y="672" width="1" height="1"/>
<rect x="61" y="672" width="1" height="1"/>
<rect x="97" y="672" width="1" height="1"/>
<rect x="133" y="672" width="1" height="1"/>
<rect x="169" y="672" width="1" height="1"/>
<rect x="205" y="672" width="1" height="1"/>
<rect x="241" y="672" width="1" height="1"/>
<rect x="277" y="672" width="1" height="1"/>
<rect x="313" y="672" width="1" height="1"/>
<rect x="349" y="672" width="1" height="1"/>
<rect x="385" y="672" width="1" height="1"/>
<rect x="421" y="672" width="1" height="1"/>
<rect x="457" y="672" width="1" height="1"/>
<rect x="493" y="672" width="1" height="1"/>
<rect x="529" y="672" width="1" height="1"/>
<rect x="565" y="672" width="1" height="1"/>
<rect x="601" y="672" width="1" height="1"/>
<rect x="637" y="672" width="1" height="1"/>
<rect x="673" y="672" width="1" height="1"/>
<rect x="709" y="672" width="1" height="1"/>
<rect x="745" y="672" width="1" height="1"/>
<rect x="781" y="672" width="1" height="1"/>
<rect x="817" y="672" width="1" height="1"/>
<rect x="853" y="672" width="1" height="1"/>
<rect x="889" y="672" width="1" height="1"/>
<rect x="925" y="672" width="1" height="1"/>
<rect x="961" y="672" width="1" height="1"/>
<rect x="997" y="672" width="1" height="1"/>
<rect x="1033" y="672" width="1" height="1"/>
<rect x="1069" y="672" width="1" height="1"/>
<rect x="1105" y="672" width="1" height="1"/>
<rect x="1141" y="672" width="1" height="1"/>
<rect x="1177" y="672" width="1" height="1"/>
<rect x="1213" y="672" width="1" height="1"/>
<rect x="1249" y="672" width="1" height="1"/>
<rect x="1285" y="672" width="1" height="1"/>
<rect x="1321" y="672" width="1" height="1"/>
<rect x="1357" y="672" width="1" height="1"/>
<rect x="1393" y="672" width="1" height="1"/>
<rect x="1429" y="672" width="1" height="1"/>
<rect x="1465" y="672" width="1" height="1"/>
<rect x="1501" y="672" width="1" height="1"/>
<rect x="1537" y="672" width="1" height="1"/>
<rect x="1573" y="672" width="1" height="1"/>
<rect x="1609" y="672" width="1" height="1"/>
<rect x="1645" y="672" width="1" height="1"/>
<rect x="1681" y="672" width="1" height="1"/>
<rect x="1717" y="672" width="1" height="1"/>
<rect x="1753" y="672" width="1" height="1"/>
<rect x="1789" y="672" width="1" height="1"/>
<rect x="25" y="711" width="1" height="1"/>
<rect x="61" y="711" width="1" height="1"/>
<rect x="97" y="711" width="1" height="1"/>
<rect x="133" y="711" width="1" height="1"/>
<rect x="169" y="711" width="1" height="1"/>
<rect x="205" y="711" width="1" height="1"/>
<rect x="241" y="711" width="1" height="1"/>
<rect x="277" y="711" width="1" height="1"/>
<rect x="313" y="711" width="1" height="1"/>
<rect x="349" y="711" width="1" height="1"/>
<rect x="385" y="711" width="1" height="1"/>
<rect x="421" y="711" width="1" height="1"/>
<rect x="457" y="711" width="1" height="1"/>
<rect x="493" y="711" width="1" height="1"/>
<rect x="529" y="711" width="1" height="1"/>
<rect x="565" y="711" width="1" height="1"/>
<rect x="601" y="711" width="1" height="1"/>
<rect x="637" y="711" width="1" height="1"/>
<rect x="673" y="711" width="1" height="1"/>
<rect x="709" y="711" width="1" height="1"/>
<rect x="745" y="711" width="1" height="1"/>
<rect x="781" y="711" width="1" height="1"/>
<rect x="817" y="711" width="1" height="1"/>
<rect x="853" y="711" width="1" height="1"/>
<rect x="889" y="711" width="1" height="1"/>
<rect x="925" y="711" width="1" height="1"/>
<rect x="961" y="711" width="1" height="1"/>
<rect x="997" y="711" width="1" height="1"/>
<rect x="1033" y="711" width="1" height="1"/>
<rect x="1069" y="711" width="1" height="1"/>
<rect x="1105" y="711" width="1" height="1"/>
<rect x="1141" y="711" width="1" height="1"/>
<rect x="1177" y="711" width="1" height="1"/>
<rect x="1213" y="711" width="1" height="1"/>
<rect x="1249" y="711" width="1" height="1"/>
<rect x="1285" y="711" width="1" height="1"/>
<rect x="1321" y="711" width="1" height="1"/>
<rect x="1357" y="711" width="1" height="1"/>
<rect x="1393" y="711" width="1" height="1"/>
<rect x="1429" y="711" width="1" height="1"/>
<rect x="1465" y="711" width="1" height="1"/>
<rect x="1501" y="711" width="1" height="1"/>
<rect x="1537" y="711" width="1" height="1"/>
<rect x="1573" y="711" width="1" height="1"/>
<rect x="1609" y="711" width="1" height="1"/>
<rect x="1645" y="711" width="1" height="1"/>
<rect x="1681" y="711" width="1" height="1"/>
<rect x="1717" y="711" width="1" height="1"/>
<rect x="1753" y="711" width="1" height="1"/>
<rect x="1789" y="711" width="1" height="1"/>
<rect x="25" y="748" width="1" height="1"/>
<rect x="61" y="748" width="1" height="1"/>
<rect x="97" y="748" width="1" height="1"/>
<rect x="133" y="748" width="1" height="1"/>
<rect x="169" y="748" width="1" height="1"/>
<rect x="205" y="748" width="1" height="1"/>
<rect x="241" y="748" width="1" height="1"/>
<rect x="277" y="748" width="1" height="1"/>
<rect x="313" y="748" width="1" height="1"/>
<rect x="349" y="748" width="1" height="1"/>
<rect x="385" y="748" width="1" height="1"/>
<rect x="421" y="748" width="1" height="1"/>
<rect x="457" y="748" width="1" height="1"/>
<rect x="493" y="748" width="1" height="1"/>
<rect x="529" y="748" width="1" height="1"/>
<rect x="565" y="748" width="1" height="1"/>
<rect x="601" y="748" width="1" height="1"/>
<rect x="637" y="748" width="1" height="1"/>
<rect x="673" y="748" width="1" height="1"/>
<rect x="709" y="748" width="1" height="1"/>
<rect x="745" y="748" width="1" height="1"/>
<rect x="781" y="748" width="1" height="1"/>
<rect x="817" y="748" width="1" height="1"/>
<rect x="853" y="748" width="1" height="1"/>
<rect x="889" y="748" width="1" height="1"/>
<rect x="925" y="748" width="1" height="1"/>
<rect x="961" y="748" width="1" height="1"/>
<rect x="997" y="748" width="1" height="1"/>
<rect x="1033" y="748" width="1" height="1"/>
<rect x="1069" y="748" width="1" height="1"/>
<rect x="1105" y="748" width="1" height="1"/>
<rect x="1141" y="748" width="1" height="1"/>
<rect x="1177" y="748" width="1" height="1"/>
<rect x="1213" y="748" width="1" height="1"/>
<rect x="1249" y="748" width="1" height="1"/>
<rect x="1285" y="748" width="1" height="1"/>
<rect x="1321" y="748" width="1" height="1"/>
<rect x="1357" y="748" width="1" height="1"/>
<rect x="1393" y="748" width="1" height="1"/>
<rect x="1429" y="748" width="1" height="1"/>
<rect x="1465" y="748" width="1" height="1"/>
<rect x="1501" y="748" width="1" height="1"/>
<rect x="1537" y="748" width="1" height="1"/>
<rect x="1573" y="748" width="1" height="1"/>
<rect x="1609" y="748" width="1" height="1"/>
<rect x="1645" y="748" width="1" height="1"/>
<rect x="1681" y="748" width="1" height="1"/>
<rect x="1717" y="748" width="1" height="1"/>
<rect x="1753" y="748" width="1" height="1"/>
<rect x="1789" y="748" width="1" height="1"/>
<rect x="25" y="784" width="1" height="1"/>
<rect x="61" y="784" width="1" height="1"/>
<rect x="97" y="784" width="1" height="1"/>
<rect x="133" y="784" width="1" height="1"/>
<rect x="169" y="784" width="1" height="1"/>
<rect x="205" y="784" width="1" height="1"/>
<rect x="241" y="784" width="1" height="1"/>
<rect x="277" y="784" width="1" height="1"/>
<rect x="313" y="784" width="1" height="1"/>
<rect x="349" y="784" width="1" height="1"/>
<rect x="385" y="784" width="1" height="1"/>
<rect x="421" y="784" width="1" height="1"/>
<rect x="457" y="784" width="1" height="1"/>
<rect x="493" y="784" width="1" height="1"/>
<rect x="529" y="784" width="1" height="1"/>
<rect x="565" y="784" width="1" height="1"/>
<rect x="601" y="784" width="1" height="1"/>
<rect x="637" y="784" width="1" height="1"/>
<rect x="673" y="784" width="1" height="1"/>
<rect x="709" y="784" width="1" height="1"/>
<rect x="745" y="784" width="1" height="1"/>
<rect x="781" y="784" width="1" height="1"/>
<rect x="817" y="784" width="1" height="1"/>
<rect x="853" y="784" width="1" height="1"/>
<rect x="889" y="784" width="1" height="1"/>
<rect x="925" y="784" width="1" height="1"/>
<rect x="961" y="784" width="1" height="1"/>
<rect x="997" y="784" width="1" height="1"/>
<rect x="1033" y="784" width="1" height="1"/>
<rect x="1069" y="784" width="1" height="1"/>
<rect x="1105" y="784" width="1" height="1"/>
<rect x="1141" y="784" width="1" height="1"/>
<rect x="1177" y="784" width="1" height="1"/>
<rect x="1213" y="784" width="1" height="1"/>
<rect x="1249" y="784" width="1" height="1"/>
<rect x="1285" y="784" width="1" height="1"/>
<rect x="1321" y="784" width="1" height="1"/>
<rect x="1357" y="784" width="1" height="1"/>
<rect x="1393" y="784" width="1" height="1"/>
<rect x="1429" y="784" width="1" height="1"/>
<rect x="1465" y="784" width="1" height="1"/>
<rect x="1501" y="784" width="1" height="1"/>
<rect x="1537" y="784" width="1" height="1"/>
<rect x="1573" y="784" width="1" height="1"/>
<rect x="1609" y="784" width="1" height="1"/>
<rect x="1645" y="784" width="1" height="1"/>
<rect x="1681" y="784" width="1" height="1"/>
<rect x="1717" y="784" width="1" height="1"/>
<rect x="1753" y="784" width="1" height="1"/>
<rect x="1789" y="784" width="1" height="1"/>
<rect x="25" y="821" width="1" height="1"/>
<rect x="61" y="821" width="1" height="1"/>
<rect x="97" y="821" width="1" height="1"/>
<rect x="133" y="821" width="1" height="1"/>
<rect x="169" y="821" width="1" height="1"/>
<rect x="205" y="821" width="1" height="1"/>
<rect x="241" y="821" width="1" height="1"/>
<rect x="277" y="821" width="1" height="1"/>
<rect x="313" y="821" width="1" height="1"/>
<rect x="349" y="821" width="1" height="1"/>
<rect x="385" y="821" width="1" height="1"/>
<rect x="421" y="821" width="1" height="1"/>
<rect x="457" y="821" width="1" height="1"/>
<rect x="493" y="821" width="1" height="1"/>
<rect x="529" y="821" width="1" height="1"/>
<rect x="565" y="821" width="1" height="1"/>
<rect x="601" y="821" width="1" height="1"/>
<rect x="637" y="821" width="1" height="1"/>
<rect x="673" y="821" width="1" height="1"/>
<rect x="709" y="821" width="1" height="1"/>
<rect x="745" y="821" width="1" height="1"/>
<rect x="781" y="821" width="1" height="1"/>
<rect x="817" y="821" width="1" height="1"/>
<rect x="853" y="821" width="1" height="1"/>
<rect x="889" y="821" width="1" height="1"/>
<rect x="925" y="821" width="1" height="1"/>
<rect x="961" y="821" width="1" height="1"/>
<rect x="997" y="821" width="1" height="1"/>
<rect x="1033" y="821" width="1" height="1"/>
<rect x="1069" y="821" width="1" height="1"/>
<rect x="1105" y="821" width="1" height="1"/>
<rect x="1141" y="821" width="1" height="1"/>
<rect x="1177" y="821" width="1" height="1"/>
<rect x="1213" y="821" width="1" height="1"/>
<rect x="1249" y="821" width="1" height="1"/>
<rect x="1285" y="821" width="1" height="1"/>
<rect x="1321" y="821" width="1" height="1"/>
<rect x="1357" y="821" width="1" height="1"/>
<rect x="1393" y="821" width="1" height="1"/>
<rect x="1429" y="821" width="1" height="1"/>
<rect x="1465" y="821" width="1" height="1"/>
<rect x="1501" y="821" width="1" height="1"/>
<rect x="1537" y="821" width="1" height="1"/>
<rect x="1573" y="821" width="1" height="1"/>
<rect x="1609" y="821" width="1" height="1"/>
<rect x="1645" y="821" width="1" height="1"/>
<rect x="1681" y="821" width="1" height="1"/>
<rect x="1717" y="821" width="1" height="1"/>
<rect x="1753" y="821" width="1" height="1"/>
<rect x="1789" y="821" width="1" height="1"/>
</g>
<g fill="#707070">
<rect x="115" y="46" width="1" height="3"/>
<rect x="115" y="55" width="1" height="3"/>
<rect x="115" y="63" width="1" height="3"/>
<rect x="115" y="72" width="1" height="3"/>
<rect x="115" y="81" width="1" height="3"/>
<rect x="115" y="90" width="1" height="3"/>
<rect x="115" y="99" width="1" height="3"/>
<rect x="115" y="107" width="1" height="3"/>
<rect x="115" y="116" width="1" height="3"/>
<rect x="115" y="125" width="1" height="3"/>
<rect x="115" y="134" width="1" height="3"/>
<rect x="115" y="143" width="1" height="3"/>
<rect x="115" y="151" width="1" height="3"/>
<rect x="115" y="160" width="1" height="3"/>
<rect x="115" y="169" width="1" height="3"/>
<rect x="115" y="178" width="1" height="3"/>
<rect x="115" y="187" width="1" height="3"/>
<rect x="115" y="195" width="1" height="3"/>
<rect x="115" y="204" width="1" height="3"/>
<rect x="115" y="213" width="1" height="3"/>
<rect x="115" y="222" width="1" height="3"/>
<rect x="115" y="231" width="1" height="3"/>
<rect x="115" y="239" width="1" height="3"/>
<rect x="115" y="248" width="1" height="3"/>
<rect x="115" y="257" width="1" height="3"/>
<rect x="115" y="266" width="1" height="3"/>
<rect x="115" y="275" width="1" height="3"/>
<rect x="115" y="283" width="1" height="3"/>
<rect x="115" y="292" width="1" height="3"/>
<rect x="115" y="301" width="1" height="3"/>
<rect x="115" y="310" width="1" height="3"/>
<rect x="115" y="319" width="1" height="3"/>
<rect x="115" y="327" width="1" height="3"/>
<rect x="115" y="336" width="1" height="3"/>
<rect x="115" y="345" width="1" height="3"/>
<rect x="115" y="354" width="1" height="3"/>
<rect x="115" y="363" width="1" height="3"/>
<rect x="115" y="371" width="1" height="3"/>
<rect x="115" y="380" width="1" height="3"/>
<rect x="115" y="389" width="1" height="3"/>
<rect x="115" y="398" width="1" height="3"/>
<rect x="115" y="407" width="1" height="3"/>
<rect x="115" y="415" width="1" height="3"/>
<rect x="115" y="424" width="1" height="3"/>
<rect x="115" y="433" width="1" height="3"/>
<rect x="115" y="442" width="1" height="3"/>
<rect x="115" y="451" width="1" height="3"/>
<rect x="115" y="459" width="1" height="3"/>
<rect x="115" y="468" width="1" height="3"/>
<rect x="115" y="477" width="1" height="3"/>
<rect x="115" y="486" width="1" height="3"/>
<rect x="115" y="495" width="1" height="3"/>
<rect x="115" y="503" width="1" height="3"/>
<rect x="115" y="512" width="1" height="3"/>
<rect x="115" y="521" width="1" height="3"/>
<rect x="115" y="530" width="1" height="3"/>
<rect x="115" y="539" width="1" height="3"/>
<rect x="115" y="547" width="1" height="3"/>
<rect x="115" y="556" width="1" height="3"/>
<rect x="115" y="565" width="1" height="3"/>
<rect x="115" y="574" width="1" height="3"/>
<rect x="115" y="583" width="1" height="3"/>
<rect x="115" y="591" width="1" height="3"/>
<rect x="115" y="600" width="1" height="3"/>
<rect x="115" y="609" width="1" height="3"/>
<rect x="115" y="618" width="1" height="3"/>
<rect x="115" y="627" width="1" height="3"/>
<rect x="115" y="635" width="1" height="3"/>
<rect x="115" y="644" width="1" height="3"/>
<rect x="115" y="653" width="1" height="3"/>
<rect x="115" y="662" width="1" height="3"/>
<rect x="115" y="671" width="1" height="3"/>
<rect x="115" y="679" width="1" height="3"/>
<rect x="115" y="688" width="1" height="3"/>
<rect x="115" y="710" width="1" height="3"/>
<rect x="115" y="717" width="1" height="3"/>
<rect x="115" y="725" width="1" height="3"/>
<rect x="115" y="732" width="1" height="3"/>
<rect x="115" y="739" width="1" height="3"/>
<rect x="115" y="747" width="1" height="3"/>
<rect x="115" y="754" width="1" height="3"/>
<rect x="115" y="761" width="1" height="3"/>
<rect x="115" y="769" width="1" height="3"/>
<rect x="115" y="776" width="1" height="3"/>
<rect x="115" y="783" width="1" height="3"/>
<rect x="115" y="791" width="1" height="3"/>
<rect x="115" y="798" width="1" height="3"/>
<rect x="115" y="805" width="1" height="3"/>
<rect x="115" y="813" width="1" height="3"/>
<rect x="115" y="820" width="1" height="3"/>
<rect x="115" y="827" width="1" height="3"/>
<rect x="115" y="835" width="1" height="3"/>
<rect x="871" y="46" width="1" height="3"/>
<rect x="871" y="55" width="1" height="3"/>
<rect x="871" y="63" width="1" height="3"/>
<rect x="871" y="72" width="1" height="3"/>
<rect x="871" y="81" width="1" height="3"/>
<rect x="871" y="90" width="1" height="3"/>
<rect x="871" y="99" width="1" height="3"/>
<rect x="871" y="107" width="1" height="3"/>
<rect x="871" y="116" width="1" height="3"/>
<rect x="871" y="125" width="1" height="3"/>
<rect x="871" y="134" width="1" height="3"/>
<rect x="871" y="143" width="1" height="3"/>
<rect x="871" y="151" width="1" height="3"/>
<rect x="871" y="160" width="1" height="3"/>
<rect x="871" y="169" width="1" height="3"/>
<rect x="871" y="178" width="1" height="3"/>
<rect x="871" y="187" width="1" height="3"/>
<rect x="871" y="195" width="1" height="3"/>
<rect x="871" y="204" width="1" height="3"/>
<rect x="871" y="213" width="1" height="3"/>
<rect x="871" y="222" width="1" height="3"/>
<rect x="871" y="231" width="1" height="3"/>
<rect x="871" y="239" width="1" height="3"/>
<rect x="871" y="248" width="1" height="3"/>
<rect x="871" y="257" width="1" height="3"/>
<rect x="871" y="266" width="1" height="3"/>
<rect x="871" y="275" width="1" height="3"/>
<rect x="871" y="283" width="1" height="3"/>
<rect x="871" y="292" width="1" height="3"/>
<rect x="871" y="301" width="1" height="3"/>
<rect x="871" y="310" width="1" height="3"/>
<rect x="871" y="319" width="1" height="3"/>
<rect x="871" y="327" width="1" height="3"/>
<rect x="871" y="336" width="1" height="3"/>
<rect x="871" y="345" width="1" height="3"/>
<rect x="871" y="354" width="1" height="3"/>
<rect x="871" y="363" width="1" height="3"/>
<rect x="871" y="371" width="1" height="3"/>
<rect x="871" y="380" width="1" height="3"/>
<rect x="871" y="389" width="1" height="3"/>
<rect x="871" y="398" width="1" height="3"/>
<rect x="871" y="407" width="1" height="3"/>
<rect x="871" y="415" width="1" height="3"/>
<rect x="871" y="424" width="1" height="3"/>
<rect x="871" y="433" width="1" height="3"/>
<rect x="871" y="442" width="1" height="3"/>
<rect x="871" y="451" width="1" height="3"/>
<rect x="871" y="459" width="1" height="3"/>
<rect x="871" y="468" width="1" height="3"/>
<rect x="871" y="477" width="1" height="3"/>
<rect x="871" y="486" width="1" height="3"/>
<rect x="871" y="495" width="1" height="3"/>
<rect x="871" y="503" width="1" height="3"/>
<rect x="871" y="512" width="1" height="3"/>
<rect x="871" y="521" width="1" height="3"/>
<rect x="871" y="530" width="1" height="3"/>
<rect x="871" y="539" width="1" height="3"/>
<rect x="871" y="547" width="1" height="3"/>
<rect x="871" y="556" width="1" height="3"/>
<rect x="871" y="565" width="1" height="3"/>
<rect x="871" y="574" width="1" height="3"/>
<rect x="871" y="583" width="1" height="3"/>
<rect x="871" y="591" width="1" height="3"/>
<rect x="871" y="600" width="1" height="3"/>
<rect x="871" y="609" width="1" height="3"/>
<rect x="871" y="618" width="1" height="3"/>
<rect x="871" y="627" width="1" height="3"/>
<rect x="871" y="635" width="1" height="3"/>
<rect x="871" y="644" width="1" height="3"/>
<rect x="871" y="653" width="1" height="3"/>
<rect x="871" y="662" width="1" height="3"/>
<rect x="871" y="671" width="1" height="3"/>
<rect x="871" y="679" width="1" height="3"/>
<rect x="871" y="688" width="1" height="3"/>
<rect x="871" y="697" width="1" height="3"/>
<rect x="871" y="710" width="1" height="3"/>
<rect x="871" y="717" width="1" height="3"/>
<rect x="871" y="725" width="1" height="3"/>
<rect x="871" y="732" width="1" height="3"/>
<rect x="871" y="739" width="1" height="3"/>
<rect x="871" y="747" width="1" height="3"/>
<rect x="871" y="754" width="1" height="3"/>
<rect x="871" y="761" width="1" height="3"/>
<rect x="871" y="769" width="1" height="3"/>
<rect x="871" y="776" width="1" height="3"/>
<rect x="871" y="783" width="1" height="3"/>
<rect x="871" y="791" width="1" height="3"/>
<rect x="871" y="798" width="1" height="3"/>
<rect x="871" y="805" width="1" height="3"/>
<rect x="871" y="813" width="1" height="3"/>
<rect x="871" y="820" width="1" height="3"/>
<rect x="871" y="827" width="1" height="3"/>
<rect x="871" y="835" width="1" height="3"/>
<rect x="1699" y="46" width="1" height="3"/>
<rect x="1699" y="55" width="1" height="3"/>
<rect x="1699" y="63" width="1" height="3"/>
<rect x="1699" y="72" width="1" height="3"/>
<rect x="1699" y="81" width="1" height="3"/>
<rect x="1699" y="90" width="1" height="3"/>
<rect x="1699" y="99" width="1" height="3"/>
<rect x="1699" y="107" width="1" height="3"/>
<rect x="1699" y="116" width="1" height="3"/>
<rect x="1699" y="125" width="1" height="3"/>
<rect x="1699" y="134" width="1" height="3"/>
<rect x="1699" y="143" width="1" height="3"/>
<rect x="1699" y="151" width="1" height="3"/>
<rect x="1699" y="160" width="1" height="3"/>
<rect x="1699" y="169" width="1" height="3"/>
<rect x="1699" y="178" width="1" height="3"/>
<rect x="1699" y="187" width="1" height="3"/>
<rect x="1699" y="195" width="1" height="3"/>
<rect x="1699" y="204" width="1" height="3"/>
<rect x="1699" y="213" width="1" height="3"/>
<rect x="1699" y="222" width="1" height="3"/>
<rect x="1699" y="231" width="1" height="3"/>
<rect x="1699" y="239" width="1" height="3"/>
<rect x="1699" y="248" width="1" height="3"/>
<rect x="1699" y="257" width="1" height="3"/>
<rect x="1699" y="266" width="1" height="3"/>
<rect x="1699" y="275" width="1" height="3"/>
<rect x="1699" y="283" width="1" height="3"/>
<rect x="1699" y="292" width="1" height="3"/>
<rect x="1699" y="301" width="1" height="3"/>
<rect x="1699" y="310" width="1" height="3"/>
<rect x="1699" y="319" width="1" height="3"/>
<rect x="1699" y="327" width="1" height="3"/>
<rect x="1699" y="336" width="1" height="3"/>
<rect x="1699" y="345" width="1" height="3"/>
<rect x="1699" y="354" width="1" height="3"/>
<rect x="1699" y="363" width="1" height="3"/>
<rect x="1699" y="371" width="1" height="3"/>
<rect x="1699" y="380" width="1" height="3"/>
<rect x="1699" y="389" width="1" height="3"/>
<rect x="1699" y="398" width="1" height="3"/>
<rect x="1699" y="407" width="1" height="3"/>
<rect x="1699" y="415" width="1" height="3"/>
<rect x="1699" y="424" width="1" height="3"/>
<rect x="1699" y="433" width="1" height="3"/>
<rect x="1699" y="442" width="1" height="3"/>
<rect x="1699" y="451" width="1" height="3"/>
<rect x="1699" y="459" width="1" height="3"/>
<rect x="1699" y="468" width="1" height="3"/>
<rect x="1699" y="477" width="1" height="3"/>
<rect x="1699" y="486" width="1" height="3"/>
<rect x="1699" y="495" width="1" height="3"/>
<rect x="1699" y="503" width="1" height="3"/>
<rect x="1699" y="512" width="1" height="3"/>
<rect x="1699" y="521" width="1" height="3"/>
<rect x="1699" y="530" width="1" height="3"/>
<rect x="1699" y="539" width="1" height="3"/>
<rect x="1699" y="547" width="1" height="3"/>
<rect x="1699" y="556" width="1" height="3"/>
<rect x="1699" y="565" width="1" height="3"/>
<rect x="1699" y="574" width="1" height="3"/>
<rect x="1699" y="583" width="1" height="3"/>
<rect x="1699" y="591" width="1" height="3"/>
<rect x="1699" y="600" width="1" height="3"/>
<rect x="1699" y="609" width="1" height="3"/>
<rect x="1699" y="618" width="1" height="3"/>
<rect x="1699" y="627" width="1" height="3"/>
<rect x="1699" y="635" width="1" height="3"/>
<rect x="1699" y="644" width="1" height="3"/>
<rect x="1699" y="653" width="1" height="3"/>
<rect x="1699" y="662" width="1" height="3"/>
<rect x="1699" y="671" width="1" height="3"/>
<rect x="1699" y="679" width="1" height="3"/>
<rect x="1699" y="688" width="1" height="3"/>
<rect x="1699" y="697" width="1" height="3"/>
<rect x="1699" y="710" width="1" height="3"/>
<rect x="1699" y="717" width="1" height="3"/>
<rect x="1699" y="725" width="1" height="3"/>
<rect x="1699" y="732" width="1" height="3"/>
<rect x="1699" y="739" width="1" height="3"/>
<rect x="1699" y="747" width="1" height="3"/>
<rect x="1699" y="754" width="1" height="3"/>
<rect x="1699" y="761" width="1" height="3"/>
<rect x="1699" y="769" width="1" height="3"/>
<rect x="1699" y="776" width="1" height="3"/>
<rect x="1699" y="783" width="1" height="3"/>
<rect x="1699" y="791" width="1" height="3"/>
<rect x="1699" y="798" width="1" height="3"/>
<rect x="1699" y="805" width="1" height="3"/>
<rect x="1699" y="813" width="1" height="3"/>
<rect x="1699" y="820" width="1" height="3"/>
<rect x="1699" y="827" width="1" height="3"/>
<rect x="1699" y="835" width="1" height="3"/>
</g>
<rect x="0" y="740" width="1820" height="1" fill="#808080"/>
<rect x="0" y="828" width="1820" height="1" fill="#808080"/>
<rect x="1820" y="45" width="2" height="661" fill="#808080"/>
<rect x="1820" y="709" width="2" height="135" fill="#808080"/>
<rect x="0" y="842" width="1822" height="2" fill="#808080"/>
<g fill="#808080">
<rect x="1817" y="47" width="3" height="1"/>
<rect x="1817" y="56" width="3" height="1"/>
<rect x="1817" y="64" width="3" height="1"/>
<rect x="1812" y="73" width="8" height="1"/>
<rect x="1817" y="82" width="3" height="1"/>
<rect x="1817" y="91" width="3" height="1"/>
<rect x="1817" y="100" width="3" height="1"/>
<rect x="1812" y="108" width="8" height="1"/>
<rect x="1817" y="117" width="3" height="1"/>
<rect x="1817" y="126" width="3" height="1"/>
<rect x="1817" y="135" width="3" height="1"/>
<rect x="1812" y="144" width="8" height="1"/>
<rect x="1817" y="152" width="3" height="1"/>
<rect x="1817" y="161" width="3" height="1"/>
<rect x="1817" y="170" width="3" height="1"/>
<rect x="1812" y="179" width="8" height="1"/>
<rect x="1817" y="188" width="3" height="1"/>
<rect x="1817" y="196" width="3" height="1"/>
<rect x="1817" y="205" width="3" height="1"/>
<rect x="1812" y="214" width="8" height="1"/>
<rect x="1817" y="223" width="3" height="1"/>
<rect x="1817" y="232" width="3" height="1"/>
<rect x="1817" y="240" width="3" height="1"/>
<rect x="1812" y="249" width="8" height="1"/>
<rect x="1817" y="258" width="3" height="1"/>
<rect x="1817" y="267" width="3" height="1"/>
<rect x="1817" y="276" width="3" height="1"/>
<rect x="1812" y="284" width="8" height="1"/>
<rect x="1817" y="293" width="3" height="1"/>
<rect x="1817" y="302" width="3" height="1"/>
<rect x="1817" y="311" width="3" height="1"/>
<rect x="1812" y="320" width="8" height="1"/>
<rect x="1817" y="328" width="3" height="1"/>
<rect x="1817" y="337" width="3" height="1"/>
<rect x="1817" y="346" width="3" height="1"/>
<rect x="1812" y="355" width="8" height="1"/>
<rect x="1817" y="364" width="3" height="1"/>
<rect x="1817" y="372" width="3" height="1"/>
<rect x="1817" y="381" width="3" height="1"/>
<rect x="1812" y="390" width="8" height="1"/>
<rect x="1817" y="399" width="3" height="1"/>
<rect x="1817" y="408" width="3" height="1"/>
<rect x="1817" y="416" width="3" height="1"/>
<rect x="1812" y="425" width="8" height="1"/>
<rect x="1817" y="434" width="3" height="1"/>
<rect x="1817" y="443" width="3" height="1"/>
<rect x="1817" y="452" width="3" height="1"/>
<rect x="1812" y="460" width="8" height="1"/>
<rect x="1817" y="469" width="3" height="1"/>
<rect x="1817" y="478" width="3" height="1"/>
<rect x="1817" y="487" width="3" height="1"/>
<rect x="1812" y="496" width="8" height="1"/>
<rect x="1817" y="504" width="3" height="1"/>
<rect x="1817" y="513" width="3" height="1"/>
<rect x="1817" y="522" width="3" height="1"/>
<rect x="1812" y="531" width="8" height="1"/>
<rect x="1817" y="540" width="3" height="1"/>
<rect x="1817" y="548" width="3" height="1"/>
<rect x="1817" y="557" width="3" height="1"/>
<rect x="1812" y="566" width="8" height="1"/>
<rect x="1817" y="575" width="3" height="1"/>
<rect x="1817" y="584" width="3" height="1"/>
<rect x="1817" y="592" width="3" height="1"/>
<rect x="1812" y="601" width="8" height="1"/>
<rect x="1817" y="610" width="3" height="1"/>
<rect x="1817" y="619" width="3" height="1"/>
<rect x="1817" y="628" width="3" height="1"/>
<rect x="1812" y="636" width="8" height="1"/>
<rect x="1817" y="645" width="3" height="1"/>
<rect x="1817" y="654" width="3" height="1"/>
<rect x="1817" y="663" width="3" height="1"/>
<rect x="1812" y="672" width="8" height="1"/>
<rect x="1817" y="680" width="3" height="1"/>
<rect x="1817" y="689" width="3" height="1"/>
<rect x="1817" y="698" width="3" height="1"/>
<rect x="1812" y="711" width="8" height="1"/>
<rect x="1817" y="718" width="3" height="1"/>
<rect x="1817" y="726" width="3" height="1"/>
<rect x="1817" y="733" width="3" height="1"/>
<rect x="1817" y="740" width="3" height="1"/>
<rect x="1812" y="748" width="8" height="1"/>
<rect x="1817" y="755" width="3" height="1"/>
<rect x="1817" y="762" width="3" height="1"/>
<rect x="1817" y="770" width="3" height="1"/>
<rect x="1817" y="777" width="3" height="1"/>
<rect x="1812" y="784" width="8" height="1"/>
<rect x="1817" y="792" width="3" height="1"/>
<rect x="1817" y="799" width="3" height="1"/>
<rect x="1817" y="806" width="3" height="1"/>
<rect x="1817" y="814" width="3" height="1"/>
<rect x="1812" y="821" width="8" height="1"/>
<rect x="1817" y="828" width="3" height="1"/>
<rect x="1817" y="836" width="3" height="1"/>
</g>
<rect x="4" y="692" width="116" height="14" fill="#fff"/>
<g fill="#808080">
<rect x="24" y="485" width="3" height="220"/>
<rect x="15" y="637" width="9" height="3"/>
<rect x="27" y="512" width="9" height="3"/>
</g>
<g fill="#ff0000">
<rect x="60" y="499" width="3" height="105"/>
<rect x="51" y="512" width="9" height="3"/>
<rect x="63" y="520" width="9" height="3"/>
</g>
<g fill="#808080">
<rect x="96" y="447" width="3" height="212"/>
<rect x="87" y="520" width="9" height="3"/>
<rect x="99" y="599" width="9" height="3"/>
</g>
<g fill="#000000">
<rect x="132" y="564" width="3" height="98"/>
<rect x="123" y="599" width="9" height="3"/>
<rect x="135" y="574" width="9" height="3"/>
</g>
<g fill="#000000">
<rect x="168" y="491" width="3" height="112"/>
<rect x="159" y="574" width="9" height="3"/>
<rect x="171" y="519" width="9" height="3"/>
</g>
<g fill="#000000">
<rect x="204" y="406" width="3" height="125"/>
<rect x="195" y="520" width="9" height="3"/>
<rect x="207" y="432" width="9" height="3"/>
</g>
<g fill="#000000">
<rect x="240" y="354" width="3" height="110"/>
<rect x="231" y="432" width="9" height="3"/>
<rect x="243" y="400" width="9" height="3"/>
</g>
<g fill="#000000">
<rect x="276" y="132" width="3" height="289"/>
<rect x="267" y="400" width="9" height="3"/>
<rect x="279" y="155" width="9" height="3"/>
</g>
<g fill="#000000">
<rect x="312" y="73" width="3" height="111"/>
<rect x="303" y="129" width="9" height="3"/>
<rect x="315" y="149" width="9" height="3"/>
</g>
<g fill="#ff0000">
<rect x="348" y="102" width="3" height="73"/>
<rect x="339" y="150" width="9" height="3"/>
<rect x="351" y="153" width="9" height="3"/>
</g>
<g fill="#000000">
<rect x="384" y="139" width="3" height="87"/>
<rect x="375" y="156" width="9" height="3"/>
<rect x="387" y="204" width="9" height="3"/>
</g>
<g fill="#000000">
<rect x="420" y="166" width="3" height="93"/>
<rect x="411" y="205" width="9" height="3"/>
<rect x="423" y="248" width="9" height="3"/>
</g>
<g fill="#000000">
<rect x="456" y="181" width="3" height="98"/>
<rect x="447" y="251" width="9" height="3"/>
<rect x="459" y="252" width="9" height="3"/>
</g>
<g fill="#808080">
<rect x="492" y="130" width="3" height="187"/>
<rect x="483" y="314" width="9" height="3"/>
<rect x="495" y="149" width="9" height="3"/>
</g>
<g fill="#000000">
<rect x="528" y="93" width="3" height="58"/>
<rect x="519" y="148" width="9" height="3"/>
<rect x="531" y="102" width="9" height="3"/>
</g>
<g fill="#000000">
<rect x="564" y="46" width="3" height="95"/>
<rect x="555" y="103" width="9" height="3"/>
<rect x="567" y="70" width="9" height="3"/>
</g>
<g fill="#000000">
<rect x="600" y="67" width="3" height="180"/>
<rect x="591" y="69" width="9" height="3"/>
<rect x="603" y="202" width="9" height="3"/>
</g>
<g fill="#ff0000">
<rect x="636" y="170" width="3" height="59"/>
<rect x="627" y="204" width="9" height="3"/>
<rect x="639" y="211" width="9" height="3"/>
</g>
<g fill="#000000">
<rect x="672" y="133" width="3" height="85"/>
<rect x="663" y="209" width="9" height="3"/>
<rect x="675" y="206" width="9" height="3"/>
</g>
<g fill="#000000">
<rect x="708" y="186" width="3" height="116"/>
<rect x="699" y="208" width="9" height="3"/>
<rect x="711" y="261" width="9" height="3"/>
</g>
<g fill="#000000">
<rect x="744" y="191" width="3" height="120"/>
<rect x="735" y="263" width="9" height="3"/>
<rect x="747" y="231" width="9" height="3"/>
</g>
<g fill="#ff0000">
<rect x="780" y="223" width="3" height="45"/>
<rect x="771" y="232" width="9" height="3"/>
<rect x="783" y="256" width="9" height="3"/>
</g>
<g fill="#808080">
<rect x="816" y="200" width="3" height="103"/>
<rect x="807" y="255" width="9" height="3"/>
<rect x="819" y="217" width="9" height="3"/>
</g>
<g fill="#000000">
<rect x="852" y="119" width="3" height="117"/>
<rect x="843" y="211" width="9" height="3"/>
<rect x="855" y="161" width="9" height="3"/>
</g>
<g fill="#000000">
<rect x="888" y="130" width="3" height="113"/>
<rect x="879" y="161" width="9" height="3"/>
<rect x="891" y="203" width="9" height="3"/>
</g>
<g fill="#000000">
<rect x="924" y="61" width="3" height="150"/>
<rect x="915" y="202" width="9" height="3"/>
<rect x="927" y="136" width="9" height="3"/>
</g>
<g fill="#000000">
<rect x="960" y="80" width="3" height="224"/>
<rect x="951" y="138" width="9" height="3"/>
<rect x="963" y="249" width="9" height="3"/>
</g>
<g fill="#ff0000">
<rect x="996" y="113" width="3" height="160"/>
<rect x="987" y="249" width="9" height="3"/>
<rect x="999" y="162" width="9" height="3"/>
</g>
<g fill="#000000">
<rect x="1032" y="95" width="3" height="58"/>
<rect x="1023" y="148" width="9" height="3"/>
<rect x="1035" y="113" width="9" height="3"/>
</g>
<g fill="#000000">
<rect x="1068" y="110" width="3" height="119"/>
<rect x="1059" y="117" width="9" height="3"/>
<rect x="1071" y="191" width="9" height="3"/>
</g>
<g fill="#000000">
<rect x="1104" y="171" width="3" height="348"/>
<rect x="1095" y="191" width="9" height="3"/>
<rect x="1107" y="453" width="9" height="3"/>
</g>
<g fill="#ff0000">
<rect x="1140" y="378" width="3" height="111"/>
<rect x="1131" y="453" width="9" height="3"/>
<rect x="1143" y="435" width="9" height="3"/>
</g>
<g fill="#808080">
<rect x="1176" y="315" width="3" height="291"/>
<rect x="1167" y="436" width="9" height="3"/>
<rect x="1179" y="535" width="9" height="3"/>
</g>
<g fill="#000000">
<rect x="1212" y="469" width="3" height="179"/>
<rect x="1203" y="503" width="9" height="3"/>
<rect x="1215" y="527" width="9" height="3"/>
</g>
<g fill="#000000">
<rect x="1248" y="392" width="3" height="215"/>
<rect x="1239" y="526" width="9" height="3"/>
<rect x="1251" y="414" width="9" height="3"/>
</g>
<g fill="#000000">
<rect x="1284" y="280" width="3" height="184"/>
<rect x="1275" y="416" width="9" height="3"/>
<rect x="1287" y="319" width="9" height="3"/>
</g>
<g fill="#000000">
<rect x="1320" y="201" width="3" height="121"/>
<rect x="1311" y="319" width="9" height="3"/>
<rect x="1323" y="257" width="9" height="3"/>
</g>
<g fill="#808080">
<rect x="1356" y="84" width="3" height="438"/>
<rect x="1347" y="257" width="9" height="3"/>
<rect x="1359" y="505" width="9" height="3"/>
</g>
<rect x="1032" y="153" width="3" height="11" fill="#00ff00"/>
<rect x="530" y="150" width="1" height="1" fill="#00ff00"/>
<rect x="0" y="640" width="1465" height="1" fill="#ff0000"/>
<rect x="1213" y="501" width="180" height="1" fill="#ff0000"/>
<rect x="1213" y="585" width="180" height="1" fill="#000"/>
<rect x="1249" y="72" width="468" height="1" fill="#0000ff"/>
<rect x="1249" y="78" width="468" height="1" fill="#0000ff"/>
<rect x="1249" y="685" width="468" height="2" fill="#0000ff"/>
<g stroke="#000" stroke-width="2" fill="none" stroke-linecap="butt">
<path d="M1222.6 223.8 L1357.6 296 M1357.6 296 L1349.4 284.2"/>
</g>
<rect x="1342" y="295" width="16" height="2" fill="#000"/>
<polyline points="25.5,740.5 61.5,739.5 97.5,736.5 133.5,741.5 169.5,741.5 205.5,731.25 241.5,724.25 277.5,720.5 313.5,723.75 349.5,724.25 385.5,732.5 421.5,741.25 457.5,749.75 493.5,745.75 529.5,733.75 565.5,721.75 601.5,728.25 637.5,740.75 673.5,754.5 709.5,767.5 745.5,777.5 781.5,799.25 817.5,805.5 853.5,801.25 889.5,792.5 925.5,777.5 961.5,793.25 997.5,786.25 1033.5,782 1069.5,771.75 1105.5,791.25 1141.5,819.25 1177.5,836.25 1213.5,833.25 1249.5,822.5 1285.5,800.75 1321.5,779.5 1357.5,786.25" fill="none" stroke="#0000ff" stroke-width="1" stroke-linejoin="round"/>
<polyline points="25.5,731.25 61.5,738.5 97.5,738.75 133.5,740 169.5,740 205.5,737.75 241.5,732.5 277.5,725.75 313.5,722.75 349.5,722.75 385.5,727 421.5,733.25 457.5,741.75 493.5,745.5 529.5,742 565.5,733.25 601.5,727.75 637.5,730.5 673.5,742.5 709.5,754.5 745.5,766.75 781.5,781.25 817.5,794.25 853.5,802.25 889.5,799.25 925.5,790.5 961.5,787.5 997.5,786.25 1033.5,787.5 1069.5,780.5 1105.5,782.5 1141.5,794.25 1177.5,815.5 1213.5,828.75 1249.5,830 1285.5,820 1321.5,801.25 1357.5,790" fill="none" stroke="#ff0000" stroke-width="1" stroke-linejoin="round"/>
</g>
<defs>
<linearGradient id="lgTube" x1="0" y1="0" x2="0" y2="1">
<stop offset="0" stop-color="#f8f0a0"/><stop offset="0.2" stop-color="#f0df4a"/><stop offset="0.5" stop-color="#d6b912"/><stop offset="0.75" stop-color="#8c7208"/><stop offset="1" stop-color="#3f3302"/>
</linearGradient>
<linearGradient id="lgCol" x1="0" y1="0" x2="1" y2="0">
<stop offset="0" stop-color="#a88a0c"/><stop offset="0.4" stop-color="#f2e350"/><stop offset="0.7" stop-color="#d0b216"/><stop offset="1" stop-color="#6f5a05"/>
</linearGradient>
<linearGradient id="lgArc" x1="0" y1="0" x2="0" y2="1">
<stop offset="0" stop-color="#f1de45"/><stop offset="0.5" stop-color="#d6b912"/><stop offset="1" stop-color="#7d6606"/>
</linearGradient>
<radialGradient id="lgKnob" cx="0.38" cy="0.35" r="0.75">
<stop offset="0" stop-color="#f7ec6e"/><stop offset="0.55" stop-color="#d6b912"/><stop offset="1" stop-color="#5f4c03"/>
</radialGradient>
</defs>
<g id="logo">
<!-- limb (graduated arc) -->
<path d="M3.1 31.3 L7.3 26.7 A26 26 0 0 0 18.1 32.2 L27.9 32.2 A26 26 0 0 0 38.7 26.7 L42.9 31.3 A31.8 31.8 0 0 1 3.1 31.3 Z" fill="url(#lgArc)" stroke="#6f5a05" stroke-width="0.7"/>
<path d="M4.4 32.4 A30 30 0 0 0 41.6 32.4" fill="none" stroke="#7d6606" stroke-width="1.1" opacity="0.8"/>
<path d="M7.4 28 A26.8 26.8 0 0 0 38.6 28" fill="none" stroke="#f8ee80" stroke-width="0.8" opacity="0.85"/>
<!-- frame legs -->
<path d="M15 19.6 L17.4 19.8 L16.6 22.8 L14 28.6 L11.6 28.2 L13.8 23.4 Z" fill="#d0b216" stroke="#7d6606" stroke-width="0.5"/>
<path d="M30 21.2 L32.8 21 L34.8 28.6 L32.2 29.2 Z" fill="#cbae14" stroke="#7d6606" stroke-width="0.5"/>
<!-- cross bar -->
<rect x="14.2" y="23.4" width="18" height="2.3" fill="#e2c92b" stroke="#7d6606" stroke-width="0.4"/>
<!-- index mirror / small fitting on the right -->
<path d="M28.6 13 L29.6 12.2 L30.4 13.6 L31.4 12.2 L32.6 12.6 L33 15.8 L32 17.8 L33.8 20.4 L33.2 24.2 L30 24.2 L30.4 20.6 L28.8 17.6 L29.4 15.4 Z" fill="#dcc022" stroke="#6f5a05" stroke-width="0.5"/>
<!-- telescope -->
<rect x="4.2" y="13" width="14.6" height="6.8" rx="0.8" fill="url(#lgTube)"/>
<rect x="4.2" y="13.6" width="1.1" height="5.8" fill="#f6ea70" opacity="0.85"/>
<rect x="4.6" y="12.9" width="13.4" height="0.9" fill="#6fb4dc"/>
<!-- shoulder under the knob -->
<path d="M19 7.6 L27.2 7.6 L27.8 10 L26.6 11.4 L27.4 13.4 L25.6 15.4 L25 18 L20.2 18 L19.8 15.4 L18 13.2 L19.2 11.4 L18.2 9.8 Z" fill="url(#lgCol)" stroke="#6f5a05" stroke-width="0.5"/>
<!-- central column (index arm) -->
<path d="M20.3 16 L24.9 16 L25.2 31 L19.9 31 Z" fill="url(#lgCol)" stroke="#7d6606" stroke-width="0.4"/>
<!-- base block -->
<path d="M19.2 30.8 L26.6 30.8 L27.8 33.4 L27.8 42.7 L18 42.7 L18 33.4 Z" fill="url(#lgCol)" stroke="#6f5a05" stroke-width="0.5"/>
<rect x="19" y="36.4" width="7.8" height="4" fill="#f6ea70" opacity="0.4"/>
<!-- top knob -->
<path d="M19 7.9 L18.6 6.5 L19.8 5.6 Q20 3.6 23 3.3 Q26.2 3.6 26.4 5.6 L27.6 6.5 L27.2 7.9 Z" fill="url(#lgKnob)" stroke="#5f4c03" stroke-width="0.5"/>
<path d="M25.4 6.4 L28.4 7.4 L28.8 10.4 L27 10.8 L26.6 8.6 Z" fill="#332901"/>
<!-- small tangent screw at the bottom right -->
<path d="M27.8 39.4 L32 38.9 L33 39.4 L33 42.7 L27.8 42.7 Z" fill="#d0b216" stroke="#6f5a05" stroke-width="0.5"/>
<rect x="32" y="39.4" width="1" height="3.2" fill="#f6ea70"/>
</g>

<g>
<text x="5" y="703.8" font-size="14.5" fill="#000" textLength="114.5" lengthAdjust="spacingAndGlyphs">TradeNavigator.com</text><rect x="0" y="706" width="1820" height="3" fill="#e0e0e0" shape-rendering="crispEdges"/>
<text x="659.3" y="20.8" font-size="20.6" fill="#000" font-weight="bold" text-anchor="start" textLength="558.4" lengthAdjust="spacingAndGlyphs" style="white-space:pre">$USD-JPY:  US Dollar/Japanese Yen @ FOREX  (Daily bars)</text>
<text x="797" y="40.9" font-size="16" fill="#000" font-weight="normal" text-anchor="start" textLength="281.5" lengthAdjust="spacingAndGlyphs">www.TradeNavigator.com © 1999-2015</text>
<text x="1827.4" y="77.7" font-size="13.2" fill="#000080" font-weight="normal" text-anchor="start" textLength="45.6" lengthAdjust="spacingAndGlyphs">123.600</text>
<text x="1827.4" y="112.7" font-size="13.2" fill="#000080" font-weight="normal" text-anchor="start" textLength="45.6" lengthAdjust="spacingAndGlyphs">123.400</text>
<text x="1827.4" y="148.7" font-size="13.2" fill="#000080" font-weight="normal" text-anchor="start" textLength="45.6" lengthAdjust="spacingAndGlyphs">123.200</text>
<text x="1827.4" y="183.7" font-size="13.2" fill="#000080" font-weight="normal" text-anchor="start" textLength="45.6" lengthAdjust="spacingAndGlyphs">123.000</text>
<text x="1827.4" y="218.7" font-size="13.2" fill="#000080" font-weight="normal" text-anchor="start" textLength="45.6" lengthAdjust="spacingAndGlyphs">122.800</text>
<text x="1827.4" y="253.7" font-size="13.2" fill="#000080" font-weight="normal" text-anchor="start" textLength="45.6" lengthAdjust="spacingAndGlyphs">122.600</text>
<text x="1827.4" y="288.7" font-size="13.2" fill="#000080" font-weight="normal" text-anchor="start" textLength="45.6" lengthAdjust="spacingAndGlyphs">122.400</text>
<text x="1827.4" y="324.7" font-size="13.2" fill="#000080" font-weight="normal" text-anchor="start" textLength="45.6" lengthAdjust="spacingAndGlyphs">122.200</text>
<text x="1827.4" y="359.7" font-size="13.2" fill="#000080" font-weight="normal" text-anchor="start" textLength="45.6" lengthAdjust="spacingAndGlyphs">122.000</text>
<text x="1827.4" y="394.7" font-size="13.2" fill="#000080" font-weight="normal" text-anchor="start" textLength="45.6" lengthAdjust="spacingAndGlyphs">121.800</text>
<text x="1827.4" y="429.7" font-size="13.2" fill="#000080" font-weight="normal" text-anchor="start" textLength="45.6" lengthAdjust="spacingAndGlyphs">121.600</text>
<text x="1827.4" y="464.7" font-size="13.2" fill="#000080" font-weight="normal" text-anchor="start" textLength="45.6" lengthAdjust="spacingAndGlyphs">121.400</text>
<text x="1827.4" y="500.7" font-size="13.2" fill="#000080" font-weight="normal" text-anchor="start" textLength="45.6" lengthAdjust="spacingAndGlyphs">121.200</text>
<text x="1827.4" y="535.7" font-size="13.2" fill="#000080" font-weight="normal" text-anchor="start" textLength="45.6" lengthAdjust="spacingAndGlyphs">121.000</text>
<text x="1827.4" y="570.7" font-size="13.2" fill="#000080" font-weight="normal" text-anchor="start" textLength="45.6" lengthAdjust="spacingAndGlyphs">120.800</text>
<text x="1827.4" y="605.7" font-size="13.2" fill="#000080" font-weight="normal" text-anchor="start" textLength="45.6" lengthAdjust="spacingAndGlyphs">120.600</text>
<text x="1827.4" y="640.7" font-size="13.2" fill="#000080" font-weight="normal" text-anchor="start" textLength="45.6" lengthAdjust="spacingAndGlyphs">120.400</text>
<text x="1827.4" y="676.7" font-size="13.2" fill="#000080" font-weight="normal" text-anchor="start" textLength="45.6" lengthAdjust="spacingAndGlyphs">120.200</text>
<text x="1827.4" y="705.3" font-size="13.2" fill="#000080" font-weight="normal" text-anchor="start" textLength="45.6" lengthAdjust="spacingAndGlyphs">120.000</text>
<text x="1827.4" y="717.5" font-size="13.2" fill="#000080" font-weight="normal" text-anchor="start" textLength="20.4" lengthAdjust="spacingAndGlyphs">100</text>
<text x="1827.6" y="752.8" font-size="13.2" fill="#000080" font-weight="normal" text-anchor="start" textLength="13.3" lengthAdjust="spacingAndGlyphs">75</text>
<text x="1827.6" y="825.8" font-size="13.2" fill="#000080" font-weight="normal" text-anchor="start" textLength="13.3" lengthAdjust="spacingAndGlyphs">25</text>
<g shape-rendering="crispEdges"><rect x="1822" y="498" width="46" height="16" fill="#000"/><rect x="1822" y="778" width="32" height="3" fill="#0000ff"/><rect x="1822" y="781" width="32" height="16" fill="#ff0000"/></g>
<text x="1822.2" y="511.3" font-size="13.2" fill="#fff" font-weight="normal" text-anchor="start" textLength="45.6" lengthAdjust="spacingAndGlyphs">121.143</text>
<text x="1822.2" y="794" font-size="13.2" fill="#fff" font-weight="normal" text-anchor="start" textLength="31.6" lengthAdjust="spacingAndGlyphs">47.07</text>
<text x="114.4" y="857" font-size="13.2" fill="#000080" font-weight="normal" text-anchor="start" textLength="39.5" lengthAdjust="spacingAndGlyphs">Nov-15</text>
<text x="870.4" y="857" font-size="13.2" fill="#000080" font-weight="normal" text-anchor="start" textLength="39.5" lengthAdjust="spacingAndGlyphs">Dec-15</text>
<text x="1698.2" y="857" font-size="13.2" fill="#000080" font-weight="normal" text-anchor="start" textLength="38.6" lengthAdjust="spacingAndGlyphs">Jan-16</text>
<text x="1176.6" y="85" font-size="22" fill="#0000ff" font-weight="bold" text-anchor="start" textLength="72.4" lengthAdjust="spacingAndGlyphs">123.574</text>
<text x="1720.2" y="78.7" font-size="22" fill="#0000ff" font-weight="bold" text-anchor="start" textLength="71.4" lengthAdjust="spacingAndGlyphs">123.604</text>
<text x="1176.6" y="692.2" font-size="22" fill="#0000ff" font-weight="bold" text-anchor="start" textLength="72.4" lengthAdjust="spacingAndGlyphs">120.124</text>
<text x="1720.2" y="692.2" font-size="22" fill="#0000ff" font-weight="bold" text-anchor="start" textLength="70.4" lengthAdjust="spacingAndGlyphs">120.119</text>
<text x="1395.8" y="508" font-size="18.8" fill="#ff0000" font-weight="bold" text-anchor="start" textLength="64.6" lengthAdjust="spacingAndGlyphs">121.167</text>
<text x="1395.8" y="592" font-size="18.8" fill="#000" font-weight="bold" text-anchor="start" textLength="64.6" lengthAdjust="spacingAndGlyphs">120.694</text>
<text x="1468.4" y="647" font-size="18.8" fill="#ff0000" font-weight="bold" text-anchor="start" textLength="64.2" lengthAdjust="spacingAndGlyphs">120.379</text>
<text x="1132" y="191.3" font-size="22.3" fill="#000" font-weight="bold" text-anchor="start" textLength="89.4" lengthAdjust="spacingAndGlyphs">T.03 Sell</text>
<text x="1647" y="720" font-size="13.2" fill="#ff0000" font-weight="normal" text-anchor="start" textLength="62.5" lengthAdjust="spacingAndGlyphs" stroke="#ff0000" stroke-width="0.5">StochD (3)</text>
<text x="1721" y="720" font-size="13.2" fill="#0000ff" font-weight="normal" text-anchor="start" textLength="81" lengthAdjust="spacingAndGlyphs" stroke="#0000ff" stroke-width="0.5">StochK (14,3)</text>
</g>
</svg>
</body>
</html>
